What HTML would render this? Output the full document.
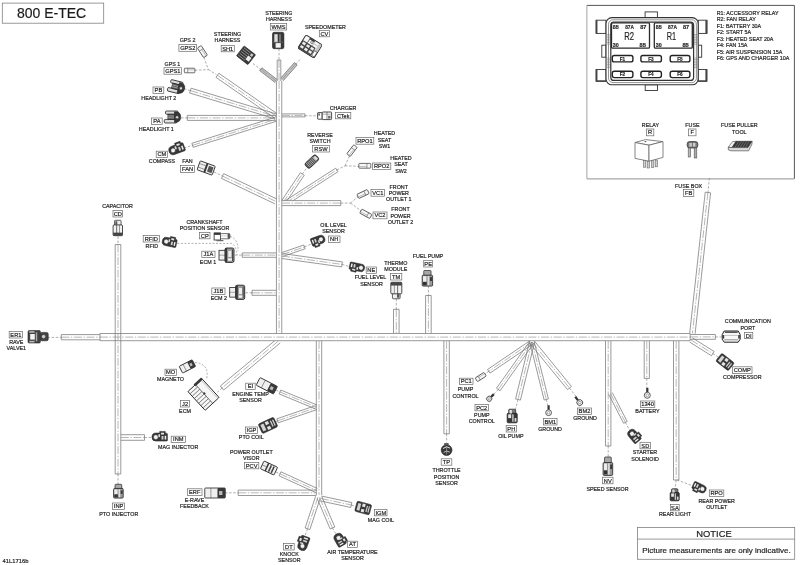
<!DOCTYPE html>
<html><head><meta charset="utf-8"><title>800 E-TEC</title>
<style>
html,body{margin:0;padding:0;background:#fff}
svg{display:block;will-change:transform}
text{font-family:"Liberation Sans",sans-serif;stroke:#222;stroke-width:0.18px}
</style></head><body>
<svg width="800" height="565" viewBox="0 0 800 565">
<rect width="800" height="565" fill="#fff"/>
<rect x="2.3" y="3.1" width="101.4" height="20.1" fill="#fff" stroke="#808080" stroke-width="0.8"/>
<text x="51.6" y="17.79" font-size="14" text-anchor="middle" fill="#1a1a1a">800 E-TEC</text>
<rect x="586.9" y="5.4" width="207.5" height="173.5" fill="#fff"/>
<line x1="586.9" y1="5.4" x2="794.4" y2="5.4" stroke="#555" stroke-width="1.0"/>
<line x1="794.4" y1="5.4" x2="794.4" y2="178.9" stroke="#555" stroke-width="1.0"/>
<line x1="586.9" y1="5.4" x2="586.9" y2="178.9" stroke="#999" stroke-width="0.9"/>
<line x1="586.9" y1="178.9" x2="794.4" y2="178.9" stroke="#a8a8a8" stroke-width="1.3"/>
<rect x="637.4" y="527.4" width="157.3" height="31.9" fill="#fff" stroke="#808080" stroke-width="0.8"/>
<line x1="637.4" y1="539.1" x2="794.7" y2="539.1" stroke="#808080" stroke-width="0.8"/>
<text x="714" y="536.88" font-size="9.4" text-anchor="middle" fill="#1a1a1a">NOTICE</text>
<text x="716.4" y="553.08" font-size="8" text-anchor="middle" fill="#1a1a1a">Picture measurements are only indicative.</text>
<text x="2.6" y="562.69" font-size="5.8" text-anchor="start" fill="#1a1a1a">41L1716b</text>
<line x1="118" y1="236.5" x2="118" y2="244.5" stroke="#777" stroke-width="0.6" stroke-dasharray="2.5 1.6"/>
<line x1="118" y1="474" x2="118" y2="484" stroke="#777" stroke-width="0.6" stroke-dasharray="2.5 1.6"/>
<line x1="120.8" y1="440.3" x2="144.5" y2="440.3" stroke="#6e6e6e" stroke-width="0.7"/>
<line x1="120.8" y1="434.7" x2="144.5" y2="434.7" stroke="#6e6e6e" stroke-width="0.7"/>
<line x1="120.8" y1="437.5" x2="144.5" y2="437.5" stroke="#7a7a7a" stroke-width="0.55" stroke-dasharray="8 1.6 1.4 1.6"/>
<line x1="144.5" y1="440.3" x2="144.5" y2="434.7" stroke="#6e6e6e" stroke-width="0.7"/>
<line x1="144.5" y1="437.5" x2="152.5" y2="437.5" stroke="#777" stroke-width="0.6" stroke-dasharray="2.5 1.6"/>
<line x1="316.3" y1="341" x2="316.3" y2="495" stroke="#6e6e6e" stroke-width="0.7"/>
<line x1="321.7" y1="341" x2="321.7" y2="495" stroke="#6e6e6e" stroke-width="0.7"/>
<line x1="319" y1="341" x2="319" y2="495" stroke="#7a7a7a" stroke-width="0.55" stroke-dasharray="8 1.6 1.4 1.6"/>
<line x1="443.9" y1="341" x2="443.9" y2="433.8" stroke="#6e6e6e" stroke-width="0.7"/>
<line x1="449.3" y1="341" x2="449.3" y2="433.8" stroke="#6e6e6e" stroke-width="0.7"/>
<line x1="446.6" y1="341" x2="446.6" y2="433.8" stroke="#7a7a7a" stroke-width="0.55" stroke-dasharray="8 1.6 1.4 1.6"/>
<line x1="443.9" y1="433.8" x2="449.3" y2="433.8" stroke="#6e6e6e" stroke-width="0.7"/>
<line x1="446.6" y1="433.8" x2="446.6" y2="442.5" stroke="#777" stroke-width="0.6" stroke-dasharray="2.5 1.6"/>
<line x1="605.5" y1="341" x2="605.5" y2="446" stroke="#6e6e6e" stroke-width="0.7"/>
<line x1="610.9" y1="341" x2="610.9" y2="446" stroke="#6e6e6e" stroke-width="0.7"/>
<line x1="608.2" y1="341" x2="608.2" y2="446" stroke="#7a7a7a" stroke-width="0.55" stroke-dasharray="8 1.6 1.4 1.6"/>
<line x1="605.5" y1="446" x2="610.9" y2="446" stroke="#6e6e6e" stroke-width="0.7"/>
<line x1="608.2" y1="446" x2="608.2" y2="457" stroke="#777" stroke-width="0.6" stroke-dasharray="2.5 1.6"/>
<line x1="644.2" y1="341" x2="644.2" y2="378.4" stroke="#6e6e6e" stroke-width="0.7"/>
<line x1="649.4" y1="341" x2="649.4" y2="378.4" stroke="#6e6e6e" stroke-width="0.7"/>
<line x1="646.8" y1="341" x2="646.8" y2="378.4" stroke="#7a7a7a" stroke-width="0.55" stroke-dasharray="8 1.6 1.4 1.6"/>
<line x1="644.2" y1="378.4" x2="649.4" y2="378.4" stroke="#6e6e6e" stroke-width="0.7"/>
<line x1="646.8" y1="378.4" x2="646.8" y2="388" stroke="#777" stroke-width="0.6" stroke-dasharray="2.5 1.6"/>
<line x1="673.5" y1="341" x2="673.5" y2="480" stroke="#6e6e6e" stroke-width="0.7"/>
<line x1="678.9" y1="341" x2="678.9" y2="480" stroke="#6e6e6e" stroke-width="0.7"/>
<line x1="676.2" y1="341" x2="676.2" y2="480" stroke="#7a7a7a" stroke-width="0.55" stroke-dasharray="8 1.6 1.4 1.6"/>
<line x1="673.5" y1="480" x2="678.9" y2="480" stroke="#6e6e6e" stroke-width="0.7"/>
<line x1="676.2" y1="480" x2="675" y2="489" stroke="#777" stroke-width="0.6" stroke-dasharray="2.5 1.6"/>
<line x1="677" y1="480" x2="692" y2="485.5" stroke="#777" stroke-width="0.6" stroke-dasharray="2.5 1.6"/>
<line x1="393.5" y1="309.3" x2="393.5" y2="333.4" stroke="#6e6e6e" stroke-width="0.7"/>
<line x1="399.1" y1="309.3" x2="399.1" y2="333.4" stroke="#6e6e6e" stroke-width="0.7"/>
<line x1="396.3" y1="309.3" x2="396.3" y2="333.4" stroke="#7a7a7a" stroke-width="0.55" stroke-dasharray="8 1.6 1.4 1.6"/>
<line x1="393.5" y1="309.3" x2="399.1" y2="309.3" stroke="#6e6e6e" stroke-width="0.7"/>
<line x1="396.3" y1="298.8" x2="396.3" y2="309.3" stroke="#777" stroke-width="0.6" stroke-dasharray="2.5 1.6"/>
<line x1="425.6" y1="295.5" x2="425.6" y2="333.4" stroke="#6e6e6e" stroke-width="0.7"/>
<line x1="431.2" y1="295.5" x2="431.2" y2="333.4" stroke="#6e6e6e" stroke-width="0.7"/>
<line x1="428.4" y1="295.5" x2="428.4" y2="333.4" stroke="#7a7a7a" stroke-width="0.55" stroke-dasharray="8 1.6 1.4 1.6"/>
<line x1="425.6" y1="295.5" x2="431.2" y2="295.5" stroke="#6e6e6e" stroke-width="0.7"/>
<line x1="428.4" y1="285.8" x2="428.4" y2="295.5" stroke="#777" stroke-width="0.6" stroke-dasharray="2.5 1.6"/>
<line x1="705.22" y1="192.2" x2="689.72" y2="333.2" stroke="#6e6e6e" stroke-width="0.7"/>
<line x1="710.58" y1="192.8" x2="695.08" y2="333.8" stroke="#6e6e6e" stroke-width="0.7"/>
<line x1="707.9" y1="192.5" x2="692.4" y2="333.5" stroke="#7a7a7a" stroke-width="0.55" stroke-dasharray="8 1.6 1.4 1.6"/>
<line x1="705.22" y1="192.2" x2="710.58" y2="192.8" stroke="#6e6e6e" stroke-width="0.7"/>
<line x1="709.3" y1="178" x2="708" y2="192.5" stroke="#777" stroke-width="0.6" stroke-dasharray="2.5 1.6"/>
<line x1="690.2" y1="339.3" x2="715.4" y2="339.3" stroke="#6e6e6e" stroke-width="0.7"/>
<line x1="690.2" y1="334.5" x2="715.4" y2="334.5" stroke="#6e6e6e" stroke-width="0.7"/>
<line x1="690.2" y1="336.9" x2="715.4" y2="336.9" stroke="#7a7a7a" stroke-width="0.55" stroke-dasharray="8 1.6 1.4 1.6"/>
<line x1="715.4" y1="339.3" x2="715.4" y2="334.5" stroke="#6e6e6e" stroke-width="0.7"/>
<line x1="715.4" y1="336.9" x2="721.6" y2="336.9" stroke="#777" stroke-width="0.6" stroke-dasharray="2.5 1.6"/>
<line x1="689.68" y1="342.12" x2="711.48" y2="355.72" stroke="#6e6e6e" stroke-width="0.7"/>
<line x1="692.32" y1="337.88" x2="714.12" y2="351.48" stroke="#6e6e6e" stroke-width="0.7"/>
<line x1="691" y1="340" x2="712.8" y2="353.6" stroke="#7a7a7a" stroke-width="0.55" stroke-dasharray="8 1.6 1.4 1.6"/>
<line x1="711.48" y1="355.72" x2="714.12" y2="351.48" stroke="#6e6e6e" stroke-width="0.7"/>
<line x1="712.8" y1="353.6" x2="718" y2="357" stroke="#777" stroke-width="0.6" stroke-dasharray="2.5 1.6"/>
<line x1="187.3" y1="120.4" x2="276" y2="120.4" stroke="#6e6e6e" stroke-width="0.7"/>
<line x1="187.3" y1="115.4" x2="276" y2="115.4" stroke="#6e6e6e" stroke-width="0.7"/>
<line x1="187.3" y1="117.9" x2="276" y2="117.9" stroke="#7a7a7a" stroke-width="0.55" stroke-dasharray="8 1.6 1.4 1.6"/>
<line x1="187.3" y1="120.4" x2="187.3" y2="115.4" stroke="#6e6e6e" stroke-width="0.7"/>
<line x1="181" y1="117.9" x2="187.3" y2="117.9" stroke="#777" stroke-width="0.6" stroke-dasharray="2.5 1.6"/>
<line x1="189.68" y1="92.99" x2="275.28" y2="118.89" stroke="#6e6e6e" stroke-width="0.7"/>
<line x1="191.12" y1="88.21" x2="276.72" y2="114.11" stroke="#6e6e6e" stroke-width="0.7"/>
<line x1="190.4" y1="90.6" x2="276" y2="116.5" stroke="#7a7a7a" stroke-width="0.55" stroke-dasharray="8 1.6 1.4 1.6"/>
<line x1="189.68" y1="92.99" x2="191.12" y2="88.21" stroke="#6e6e6e" stroke-width="0.7"/>
<line x1="184" y1="88.6" x2="190.4" y2="90.6" stroke="#777" stroke-width="0.6" stroke-dasharray="2.5 1.6"/>
<line x1="215.97" y1="77.35" x2="274.57" y2="118.05" stroke="#6e6e6e" stroke-width="0.7"/>
<line x1="218.83" y1="73.25" x2="277.43" y2="113.95" stroke="#6e6e6e" stroke-width="0.7"/>
<line x1="217.4" y1="75.3" x2="276" y2="116" stroke="#7a7a7a" stroke-width="0.55" stroke-dasharray="8 1.6 1.4 1.6"/>
<line x1="215.97" y1="77.35" x2="218.83" y2="73.25" stroke="#6e6e6e" stroke-width="0.7"/>
<line x1="193.13" y1="147.3" x2="276.63" y2="121.2" stroke="#6e6e6e" stroke-width="0.7"/>
<line x1="191.87" y1="143.3" x2="275.37" y2="117.2" stroke="#6e6e6e" stroke-width="0.7"/>
<line x1="192.5" y1="145.3" x2="276" y2="119.2" stroke="#7a7a7a" stroke-width="0.55" stroke-dasharray="8 1.6 1.4 1.6"/>
<line x1="193.13" y1="147.3" x2="191.87" y2="143.3" stroke="#6e6e6e" stroke-width="0.7"/>
<line x1="184" y1="148" x2="192.5" y2="145.3" stroke="#777" stroke-width="0.6" stroke-dasharray="2.5 1.6"/>
<line x1="221.38" y1="178.35" x2="274.88" y2="203.85" stroke="#6e6e6e" stroke-width="0.7"/>
<line x1="223.62" y1="173.65" x2="277.12" y2="199.15" stroke="#6e6e6e" stroke-width="0.7"/>
<line x1="222.5" y1="176" x2="276" y2="201.5" stroke="#7a7a7a" stroke-width="0.55" stroke-dasharray="8 1.6 1.4 1.6"/>
<line x1="221.38" y1="178.35" x2="223.62" y2="173.65" stroke="#6e6e6e" stroke-width="0.7"/>
<line x1="214" y1="172" x2="222.5" y2="176" stroke="#777" stroke-width="0.6" stroke-dasharray="2.5 1.6"/>
<polygon points="259.7,70.62 275.2,82.62 277.4,79.78 261.9,67.78" fill="#c4c4c4"/>
<line x1="259.7" y1="70.62" x2="275.2" y2="82.62" stroke="#666" stroke-width="0.7"/>
<line x1="261.9" y1="67.78" x2="277.4" y2="79.78" stroke="#666" stroke-width="0.7"/>
<line x1="260.8" y1="69.2" x2="276.3" y2="81.2" stroke="#7a7a7a" stroke-width="0.55" stroke-dasharray="8 1.6 1.4 1.6"/>
<line x1="259.7" y1="70.62" x2="261.9" y2="67.78" stroke="#666" stroke-width="0.7"/>
<polygon points="294.45,62.61 280.45,78.41 283.15,80.79 297.15,64.99" fill="#c4c4c4"/>
<line x1="294.45" y1="62.61" x2="280.45" y2="78.41" stroke="#666" stroke-width="0.7"/>
<line x1="297.15" y1="64.99" x2="283.15" y2="80.79" stroke="#666" stroke-width="0.7"/>
<line x1="295.8" y1="63.8" x2="281.8" y2="79.6" stroke="#7a7a7a" stroke-width="0.55" stroke-dasharray="8 1.6 1.4 1.6"/>
<line x1="294.45" y1="62.61" x2="297.15" y2="64.99" stroke="#666" stroke-width="0.7"/>
<line x1="253" y1="63.5" x2="260.8" y2="69.6" stroke="#777" stroke-width="0.6" stroke-dasharray="2.5 1.6"/>
<line x1="300" y1="59.5" x2="296" y2="64" stroke="#777" stroke-width="0.6" stroke-dasharray="2.5 1.6"/>
<line x1="194.9" y1="70.3" x2="208.4" y2="69.6" stroke="#777" stroke-width="0.6" stroke-dasharray="2.5 1.6"/>
<line x1="203.9" y1="57.3" x2="208.4" y2="69.6" stroke="#777" stroke-width="0.6" stroke-dasharray="2.5 1.6"/>
<line x1="208.4" y1="69.6" x2="216.3" y2="74.5" stroke="#777" stroke-width="0.6" stroke-dasharray="2.5 1.6"/>
<line x1="282" y1="116.9" x2="305" y2="116.9" stroke="#6e6e6e" stroke-width="0.7"/>
<line x1="282" y1="113.9" x2="305" y2="113.9" stroke="#6e6e6e" stroke-width="0.7"/>
<line x1="282" y1="115.4" x2="305" y2="115.4" stroke="#7a7a7a" stroke-width="0.55" stroke-dasharray="8 1.6 1.4 1.6"/>
<line x1="305" y1="116.9" x2="305" y2="113.9" stroke="#6e6e6e" stroke-width="0.7"/>
<line x1="305" y1="115.8" x2="318" y2="115.8" stroke="#777" stroke-width="0.6" stroke-dasharray="2.5 1.6"/>
<line x1="284.71" y1="204.28" x2="304.21" y2="175.28" stroke="#6e6e6e" stroke-width="0.7"/>
<line x1="280.89" y1="201.72" x2="300.39" y2="172.72" stroke="#6e6e6e" stroke-width="0.7"/>
<line x1="282.8" y1="203" x2="302.3" y2="174" stroke="#7a7a7a" stroke-width="0.55" stroke-dasharray="8 1.6 1.4 1.6"/>
<line x1="304.21" y1="175.28" x2="300.39" y2="172.72" stroke="#6e6e6e" stroke-width="0.7"/>
<line x1="286.64" y1="204.77" x2="337.94" y2="171.77" stroke="#6e6e6e" stroke-width="0.7"/>
<line x1="284.36" y1="201.23" x2="335.66" y2="168.23" stroke="#6e6e6e" stroke-width="0.7"/>
<line x1="285.5" y1="203" x2="336.8" y2="170" stroke="#7a7a7a" stroke-width="0.55" stroke-dasharray="8 1.6 1.4 1.6"/>
<line x1="337.94" y1="171.77" x2="335.66" y2="168.23" stroke="#6e6e6e" stroke-width="0.7"/>
<polygon points="282,205.6 340.8,205.6 340.8,200.6 282,200.6" fill="#fff"/>
<line x1="282" y1="205.6" x2="340.8" y2="205.6" stroke="#6e6e6e" stroke-width="0.7"/>
<line x1="282" y1="200.6" x2="340.8" y2="200.6" stroke="#6e6e6e" stroke-width="0.7"/>
<line x1="282" y1="203.1" x2="340.8" y2="203.1" stroke="#7a7a7a" stroke-width="0.55" stroke-dasharray="8 1.6 1.4 1.6"/>
<line x1="340.8" y1="205.6" x2="340.8" y2="200.6" stroke="#6e6e6e" stroke-width="0.7"/>
<line x1="302.3" y1="174" x2="307" y2="167.5" stroke="#777" stroke-width="0.6" stroke-dasharray="2.5 1.6"/>
<line x1="336.8" y1="170" x2="345" y2="165.8" stroke="#777" stroke-width="0.6" stroke-dasharray="2.5 1.6"/>
<line x1="345" y1="165.8" x2="349.5" y2="156" stroke="#777" stroke-width="0.6" stroke-dasharray="2.5 1.6"/>
<line x1="345" y1="165.8" x2="359.5" y2="166.3" stroke="#777" stroke-width="0.6" stroke-dasharray="2.5 1.6"/>
<line x1="340.8" y1="203.1" x2="350.5" y2="203.1" stroke="#777" stroke-width="0.6" stroke-dasharray="2.5 1.6"/>
<line x1="350.5" y1="203.1" x2="358" y2="196.8" stroke="#777" stroke-width="0.6" stroke-dasharray="2.5 1.6"/>
<line x1="350.5" y1="203.1" x2="361" y2="210.8" stroke="#777" stroke-width="0.6" stroke-dasharray="2.5 1.6"/>
<line x1="282.65" y1="256.49" x2="305.15" y2="248.79" stroke="#6e6e6e" stroke-width="0.7"/>
<line x1="281.35" y1="252.71" x2="303.85" y2="245.01" stroke="#6e6e6e" stroke-width="0.7"/>
<line x1="282" y1="254.6" x2="304.5" y2="246.9" stroke="#7a7a7a" stroke-width="0.55" stroke-dasharray="8 1.6 1.4 1.6"/>
<line x1="305.15" y1="248.79" x2="303.85" y2="245.01" stroke="#6e6e6e" stroke-width="0.7"/>
<line x1="304.5" y1="246.9" x2="311.5" y2="244" stroke="#777" stroke-width="0.6" stroke-dasharray="2.5 1.6"/>
<line x1="281.65" y1="258.48" x2="341.65" y2="266.88" stroke="#6e6e6e" stroke-width="0.7"/>
<line x1="282.35" y1="253.52" x2="342.35" y2="261.92" stroke="#6e6e6e" stroke-width="0.7"/>
<line x1="282" y1="256" x2="342" y2="264.4" stroke="#7a7a7a" stroke-width="0.55" stroke-dasharray="8 1.6 1.4 1.6"/>
<line x1="341.65" y1="266.88" x2="342.35" y2="261.92" stroke="#6e6e6e" stroke-width="0.7"/>
<line x1="342" y1="264.4" x2="349.5" y2="266.5" stroke="#777" stroke-width="0.6" stroke-dasharray="2.5 1.6"/>
<line x1="242.2" y1="257.3" x2="276" y2="257.3" stroke="#6e6e6e" stroke-width="0.7"/>
<line x1="242.2" y1="252.9" x2="276" y2="252.9" stroke="#6e6e6e" stroke-width="0.7"/>
<line x1="242.2" y1="255.1" x2="276" y2="255.1" stroke="#7a7a7a" stroke-width="0.55" stroke-dasharray="8 1.6 1.4 1.6"/>
<line x1="242.2" y1="257.3" x2="242.2" y2="252.9" stroke="#6e6e6e" stroke-width="0.7"/>
<line x1="235" y1="255.1" x2="242.2" y2="255.1" stroke="#777" stroke-width="0.6" stroke-dasharray="2.5 1.6"/>
<line x1="252" y1="295.3" x2="276" y2="295.3" stroke="#6e6e6e" stroke-width="0.7"/>
<line x1="252" y1="290.3" x2="276" y2="290.3" stroke="#6e6e6e" stroke-width="0.7"/>
<line x1="252" y1="292.8" x2="276" y2="292.8" stroke="#7a7a7a" stroke-width="0.55" stroke-dasharray="8 1.6 1.4 1.6"/>
<line x1="252" y1="295.3" x2="252" y2="290.3" stroke="#6e6e6e" stroke-width="0.7"/>
<line x1="245.5" y1="292.8" x2="252" y2="292.8" stroke="#777" stroke-width="0.6" stroke-dasharray="2.5 1.6"/>
<path d="M177.5 243.4 H231.5 Q236 245 237 255 M230 236.3 Q238.5 239 238 251" fill="none" stroke="#808080" stroke-width="0.6" stroke-dasharray="2 1.5"/>
<line x1="276.84" y1="339" x2="220.34" y2="386" stroke="#6e6e6e" stroke-width="0.7"/>
<line x1="280.16" y1="343" x2="223.66" y2="390" stroke="#6e6e6e" stroke-width="0.7"/>
<line x1="278.5" y1="341" x2="222" y2="388" stroke="#7a7a7a" stroke-width="0.55" stroke-dasharray="8 1.6 1.4 1.6"/>
<line x1="220.34" y1="386" x2="223.66" y2="390" stroke="#6e6e6e" stroke-width="0.7"/>
<line x1="222" y1="388" x2="217" y2="392.5" stroke="#777" stroke-width="0.6" stroke-dasharray="2.5 1.6"/>
<path d="M195 362.5 Q210 364 206.5 379.5" fill="none" stroke="#777" stroke-width="0.6" stroke-dasharray="2 1.5"/>
<line x1="279.2" y1="393.94" x2="315.5" y2="408.94" stroke="#6e6e6e" stroke-width="0.7"/>
<line x1="280.8" y1="390.06" x2="317.1" y2="405.06" stroke="#6e6e6e" stroke-width="0.7"/>
<line x1="280" y1="392" x2="316.3" y2="407" stroke="#7a7a7a" stroke-width="0.55" stroke-dasharray="8 1.6 1.4 1.6"/>
<line x1="279.2" y1="393.94" x2="280.8" y2="390.06" stroke="#6e6e6e" stroke-width="0.7"/>
<line x1="278.18" y1="422.79" x2="316.98" y2="409.59" stroke="#6e6e6e" stroke-width="0.7"/>
<line x1="276.82" y1="418.81" x2="315.62" y2="405.61" stroke="#6e6e6e" stroke-width="0.7"/>
<line x1="277.5" y1="420.8" x2="316.3" y2="407.6" stroke="#7a7a7a" stroke-width="0.55" stroke-dasharray="8 1.6 1.4 1.6"/>
<line x1="278.18" y1="422.79" x2="276.82" y2="418.81" stroke="#6e6e6e" stroke-width="0.7"/>
<line x1="276" y1="390" x2="280" y2="392" stroke="#777" stroke-width="0.6" stroke-dasharray="2.5 1.6"/>
<line x1="276" y1="421.5" x2="277.5" y2="420.8" stroke="#777" stroke-width="0.6" stroke-dasharray="2.5 1.6"/>
<line x1="279.08" y1="475.8" x2="315.58" y2="492.5" stroke="#6e6e6e" stroke-width="0.7"/>
<line x1="280.92" y1="471.8" x2="317.42" y2="488.5" stroke="#6e6e6e" stroke-width="0.7"/>
<line x1="280" y1="473.8" x2="316.5" y2="490.5" stroke="#7a7a7a" stroke-width="0.55" stroke-dasharray="8 1.6 1.4 1.6"/>
<line x1="279.08" y1="475.8" x2="280.92" y2="471.8" stroke="#6e6e6e" stroke-width="0.7"/>
<line x1="276" y1="472" x2="280" y2="473.8" stroke="#777" stroke-width="0.6" stroke-dasharray="2.5 1.6"/>
<line x1="238.2" y1="495.5" x2="316.5" y2="495.5" stroke="#6e6e6e" stroke-width="0.7"/>
<line x1="238.2" y1="490.1" x2="316.5" y2="490.1" stroke="#6e6e6e" stroke-width="0.7"/>
<line x1="238.2" y1="492.8" x2="316.5" y2="492.8" stroke="#7a7a7a" stroke-width="0.55" stroke-dasharray="8 1.6 1.4 1.6"/>
<line x1="238.2" y1="495.5" x2="238.2" y2="490.1" stroke="#6e6e6e" stroke-width="0.7"/>
<line x1="225" y1="492.8" x2="238.2" y2="492.8" stroke="#777" stroke-width="0.6" stroke-dasharray="2.5 1.6"/>
<line x1="320.48" y1="500.94" x2="350.78" y2="507.44" stroke="#6e6e6e" stroke-width="0.7"/>
<line x1="321.52" y1="496.06" x2="351.82" y2="502.56" stroke="#6e6e6e" stroke-width="0.7"/>
<line x1="321" y1="498.5" x2="351.3" y2="505" stroke="#7a7a7a" stroke-width="0.55" stroke-dasharray="8 1.6 1.4 1.6"/>
<line x1="350.78" y1="507.44" x2="351.82" y2="502.56" stroke="#6e6e6e" stroke-width="0.7"/>
<line x1="351.3" y1="505" x2="355.5" y2="506" stroke="#777" stroke-width="0.6" stroke-dasharray="2.5 1.6"/>
<line x1="315.63" y1="496.22" x2="305.13" y2="528.02" stroke="#6e6e6e" stroke-width="0.7"/>
<line x1="320.37" y1="497.78" x2="309.87" y2="529.58" stroke="#6e6e6e" stroke-width="0.7"/>
<line x1="318" y1="497" x2="307.5" y2="528.8" stroke="#7a7a7a" stroke-width="0.55" stroke-dasharray="8 1.6 1.4 1.6"/>
<line x1="305.13" y1="528.02" x2="309.87" y2="529.58" stroke="#6e6e6e" stroke-width="0.7"/>
<line x1="307.5" y1="528.8" x2="305" y2="535.5" stroke="#777" stroke-width="0.6" stroke-dasharray="2.5 1.6"/>
<line x1="317.2" y1="498.48" x2="330.2" y2="528.98" stroke="#6e6e6e" stroke-width="0.7"/>
<line x1="321.8" y1="496.52" x2="334.8" y2="527.02" stroke="#6e6e6e" stroke-width="0.7"/>
<line x1="319.5" y1="497.5" x2="332.5" y2="528" stroke="#7a7a7a" stroke-width="0.55" stroke-dasharray="8 1.6 1.4 1.6"/>
<line x1="330.2" y1="528.98" x2="334.8" y2="527.02" stroke="#6e6e6e" stroke-width="0.7"/>
<line x1="332.5" y1="528" x2="336" y2="534" stroke="#777" stroke-width="0.6" stroke-dasharray="2.5 1.6"/>
<line x1="530.77" y1="340.18" x2="487.57" y2="369.48" stroke="#6e6e6e" stroke-width="0.7"/>
<line x1="533.23" y1="343.82" x2="490.03" y2="373.12" stroke="#6e6e6e" stroke-width="0.7"/>
<line x1="532" y1="342" x2="488.8" y2="371.3" stroke="#7a7a7a" stroke-width="0.55" stroke-dasharray="8 1.6 1.4 1.6"/>
<line x1="487.57" y1="369.48" x2="490.03" y2="373.12" stroke="#6e6e6e" stroke-width="0.7"/>
<line x1="488.8" y1="371.3" x2="485" y2="374" stroke="#777" stroke-width="0.6" stroke-dasharray="2.5 1.6"/>
<line x1="530.21" y1="340.73" x2="496.51" y2="388.23" stroke="#6e6e6e" stroke-width="0.7"/>
<line x1="533.79" y1="343.27" x2="500.09" y2="390.77" stroke="#6e6e6e" stroke-width="0.7"/>
<line x1="532" y1="342" x2="498.3" y2="389.5" stroke="#7a7a7a" stroke-width="0.55" stroke-dasharray="8 1.6 1.4 1.6"/>
<line x1="496.51" y1="388.23" x2="500.09" y2="390.77" stroke="#6e6e6e" stroke-width="0.7"/>
<line x1="498.3" y1="389.5" x2="493.5" y2="394.5" stroke="#777" stroke-width="0.6" stroke-dasharray="2.5 1.6"/>
<line x1="529.57" y1="341.41" x2="515.57" y2="398.91" stroke="#6e6e6e" stroke-width="0.7"/>
<line x1="534.43" y1="342.59" x2="520.43" y2="400.09" stroke="#6e6e6e" stroke-width="0.7"/>
<line x1="532" y1="342" x2="518" y2="399.5" stroke="#7a7a7a" stroke-width="0.55" stroke-dasharray="8 1.6 1.4 1.6"/>
<line x1="515.57" y1="398.91" x2="520.43" y2="400.09" stroke="#6e6e6e" stroke-width="0.7"/>
<line x1="518" y1="399.5" x2="515.5" y2="409" stroke="#777" stroke-width="0.6" stroke-dasharray="2.5 1.6"/>
<line x1="529.87" y1="342.53" x2="544.17" y2="400.03" stroke="#6e6e6e" stroke-width="0.7"/>
<line x1="534.13" y1="341.47" x2="548.43" y2="398.97" stroke="#6e6e6e" stroke-width="0.7"/>
<line x1="532" y1="342" x2="546.3" y2="399.5" stroke="#7a7a7a" stroke-width="0.55" stroke-dasharray="8 1.6 1.4 1.6"/>
<line x1="544.17" y1="400.03" x2="548.43" y2="398.97" stroke="#6e6e6e" stroke-width="0.7"/>
<line x1="546.3" y1="399.5" x2="548" y2="406.5" stroke="#777" stroke-width="0.6" stroke-dasharray="2.5 1.6"/>
<line x1="530.06" y1="343.58" x2="567.56" y2="389.58" stroke="#6e6e6e" stroke-width="0.7"/>
<line x1="533.94" y1="340.42" x2="571.44" y2="386.42" stroke="#6e6e6e" stroke-width="0.7"/>
<line x1="532" y1="342" x2="569.5" y2="388" stroke="#7a7a7a" stroke-width="0.55" stroke-dasharray="8 1.6 1.4 1.6"/>
<line x1="567.56" y1="389.58" x2="571.44" y2="386.42" stroke="#6e6e6e" stroke-width="0.7"/>
<line x1="569.5" y1="388" x2="576.5" y2="397" stroke="#777" stroke-width="0.6" stroke-dasharray="2.5 1.6"/>
<line x1="608.72" y1="394.42" x2="623.62" y2="423.32" stroke="#6e6e6e" stroke-width="0.7"/>
<line x1="612.28" y1="392.58" x2="627.18" y2="421.48" stroke="#6e6e6e" stroke-width="0.7"/>
<line x1="610.5" y1="393.5" x2="625.4" y2="422.4" stroke="#7a7a7a" stroke-width="0.55" stroke-dasharray="8 1.6 1.4 1.6"/>
<line x1="623.62" y1="423.32" x2="627.18" y2="421.48" stroke="#6e6e6e" stroke-width="0.7"/>
<line x1="625.4" y1="422.4" x2="629.5" y2="430" stroke="#777" stroke-width="0.6" stroke-dasharray="2.5 1.6"/>
<polygon points="276.45,81 276.45,333.5 281.75,333.5 281.75,81" fill="#fff"/>
<line x1="276.45" y1="81" x2="276.45" y2="333.5" stroke="#6e6e6e" stroke-width="0.7"/>
<line x1="281.75" y1="81" x2="281.75" y2="333.5" stroke="#6e6e6e" stroke-width="0.7"/>
<line x1="279.1" y1="81" x2="279.1" y2="333.5" stroke="#7a7a7a" stroke-width="0.55" stroke-dasharray="8 1.6 1.4 1.6"/>
<polygon points="277.2,60 277.2,81 280.8,81 280.8,60" fill="#fff"/>
<line x1="277.2" y1="60" x2="277.2" y2="81" stroke="#6e6e6e" stroke-width="0.7"/>
<line x1="280.8" y1="60" x2="280.8" y2="81" stroke="#6e6e6e" stroke-width="0.7"/>
<line x1="279" y1="60" x2="279" y2="81" stroke="#7a7a7a" stroke-width="0.55" stroke-dasharray="8 1.6 1.4 1.6"/>
<line x1="277.2" y1="60" x2="280.8" y2="60" stroke="#6e6e6e" stroke-width="0.7"/>
<line x1="279" y1="48.7" x2="279" y2="60" stroke="#777" stroke-width="0.6" stroke-dasharray="2.5 1.6"/>
<polygon points="100,340.7 690.2,340.7 690.2,333.5 100,333.5" fill="#fff"/>
<line x1="100" y1="340.7" x2="690.2" y2="340.7" stroke="#6e6e6e" stroke-width="0.7"/>
<line x1="100" y1="333.5" x2="690.2" y2="333.5" stroke="#6e6e6e" stroke-width="0.7"/>
<line x1="100" y1="337.1" x2="690.2" y2="337.1" stroke="#7a7a7a" stroke-width="0.55" stroke-dasharray="8 1.6 1.4 1.6"/>
<line x1="690.2" y1="340.7" x2="690.2" y2="333.5" stroke="#6e6e6e" stroke-width="0.7"/>
<line x1="100" y1="333.5" x2="100" y2="340.7" stroke="#6e6e6e" stroke-width="0.7"/>
<line x1="61.3" y1="339.8" x2="100" y2="339.8" stroke="#6e6e6e" stroke-width="0.7"/>
<line x1="61.3" y1="334.6" x2="100" y2="334.6" stroke="#6e6e6e" stroke-width="0.7"/>
<line x1="61.3" y1="337.2" x2="100" y2="337.2" stroke="#7a7a7a" stroke-width="0.55" stroke-dasharray="8 1.6 1.4 1.6"/>
<line x1="61.3" y1="339.8" x2="61.3" y2="334.6" stroke="#6e6e6e" stroke-width="0.7"/>
<line x1="47.5" y1="337.4" x2="61.3" y2="337.4" stroke="#777" stroke-width="0.6" stroke-dasharray="2.5 1.6"/>
<line x1="115.2" y1="244.5" x2="115.2" y2="474" stroke="#6e6e6e" stroke-width="0.7"/>
<line x1="120.8" y1="244.5" x2="120.8" y2="474" stroke="#6e6e6e" stroke-width="0.7"/>
<line x1="118" y1="244.5" x2="118" y2="474" stroke="#7a7a7a" stroke-width="0.55" stroke-dasharray="8 1.6 1.4 1.6"/>
<line x1="115.2" y1="244.5" x2="120.8" y2="244.5" stroke="#6e6e6e" stroke-width="0.7"/>
<line x1="115.2" y1="474" x2="120.8" y2="474" stroke="#6e6e6e" stroke-width="0.7"/>
<text x="278.8" y="14.63" font-size="5.35" text-anchor="middle" fill="#1a1a1a">STEERING</text>
<text x="278.8" y="20.93" font-size="5.35" text-anchor="middle" fill="#1a1a1a">HARNESS</text>
<rect x="270.3" y="23.6" width="16.4" height="6.4" fill="#fff" stroke="#6a6a6a" stroke-width="0.7"/>
<text x="278.5" y="28.85" font-size="5.7" text-anchor="middle" fill="#1a1a1a">WMS</text>
<text x="227.5" y="35.93" font-size="5.35" text-anchor="middle" fill="#1a1a1a">STEERING</text>
<text x="227.5" y="42.13" font-size="5.35" text-anchor="middle" fill="#1a1a1a">HARNESS</text>
<rect x="221.2" y="45.4" width="13.1" height="6.4" fill="#fff" stroke="#6a6a6a" stroke-width="0.7"/>
<text x="227.75" y="50.65" font-size="5.7" text-anchor="middle" fill="#1a1a1a">SH1</text>
<text x="325.4" y="28.83" font-size="5.35" text-anchor="middle" fill="#1a1a1a">SPEEDOMETER</text>
<rect x="319.3" y="30.5" width="10.1" height="6.3" fill="#fff" stroke="#6a6a6a" stroke-width="0.7"/>
<text x="324.35" y="35.7" font-size="5.7" text-anchor="middle" fill="#1a1a1a">CV</text>
<text x="187.5" y="42.33" font-size="5.35" text-anchor="middle" fill="#1a1a1a">GPS 2</text>
<rect x="178.9" y="44.6" width="17.7" height="6.7" fill="#fff" stroke="#6a6a6a" stroke-width="0.7"/>
<text x="187.75" y="50" font-size="5.7" text-anchor="middle" fill="#1a1a1a">GPS2</text>
<text x="172.4" y="65.53" font-size="5.35" text-anchor="middle" fill="#1a1a1a">GPS 1</text>
<rect x="164" y="67.7" width="17.6" height="6.5" fill="#fff" stroke="#6a6a6a" stroke-width="0.7"/>
<text x="172.8" y="73" font-size="5.7" text-anchor="middle" fill="#1a1a1a">GPS1</text>
<rect x="153" y="87" width="10.8" height="6.6" fill="#fff" stroke="#6a6a6a" stroke-width="0.7"/>
<text x="158.4" y="92.35" font-size="5.7" text-anchor="middle" fill="#1a1a1a">PB</text>
<text x="158.8" y="99.93" font-size="5.35" text-anchor="middle" fill="#1a1a1a">HEADLIGHT 2</text>
<rect x="151.6" y="118" width="10.6" height="6.5" fill="#fff" stroke="#6a6a6a" stroke-width="0.7"/>
<text x="156.9" y="123.3" font-size="5.7" text-anchor="middle" fill="#1a1a1a">PA</text>
<text x="156.3" y="130.73" font-size="5.35" text-anchor="middle" fill="#1a1a1a">HEADLIGHT 1</text>
<rect x="156.2" y="151.2" width="11.4" height="6.4" fill="#fff" stroke="#6a6a6a" stroke-width="0.7"/>
<text x="161.9" y="156.45" font-size="5.7" text-anchor="middle" fill="#1a1a1a">CM</text>
<text x="162" y="162.73" font-size="5.35" text-anchor="middle" fill="#1a1a1a">COMPASS</text>
<text x="187.5" y="162.73" font-size="5.35" text-anchor="middle" fill="#1a1a1a">FAN</text>
<rect x="180.6" y="165.6" width="14" height="6.8" fill="#fff" stroke="#6a6a6a" stroke-width="0.7"/>
<text x="187.6" y="171.05" font-size="5.7" text-anchor="middle" fill="#1a1a1a">FAN</text>
<text x="343" y="109.93" font-size="5.35" text-anchor="middle" fill="#1a1a1a">CHARGER</text>
<rect x="335.5" y="112.4" width="15.3" height="6.4" fill="#fff" stroke="#6a6a6a" stroke-width="0.7"/>
<text x="343.15" y="117.58" font-size="5.5" text-anchor="middle" fill="#1a1a1a">CTek</text>
<text x="320" y="136.93" font-size="5.35" text-anchor="middle" fill="#1a1a1a">REVERSE</text>
<text x="320" y="143.43" font-size="5.35" text-anchor="middle" fill="#1a1a1a">SWITCH</text>
<rect x="312.5" y="145.6" width="16.9" height="6.4" fill="#fff" stroke="#6a6a6a" stroke-width="0.7"/>
<text x="320.95" y="150.85" font-size="5.7" text-anchor="middle" fill="#1a1a1a">RSW</text>
<rect x="356" y="137.4" width="17.8" height="6.8" fill="#fff" stroke="#6a6a6a" stroke-width="0.7"/>
<text x="364.9" y="142.85" font-size="5.7" text-anchor="middle" fill="#1a1a1a">RPO1</text>
<text x="384.5" y="135.23" font-size="5.35" text-anchor="middle" fill="#1a1a1a">HEATED</text>
<text x="384.5" y="141.73" font-size="5.35" text-anchor="middle" fill="#1a1a1a">SEAT</text>
<text x="384.5" y="148.43" font-size="5.35" text-anchor="middle" fill="#1a1a1a">SW1</text>
<rect x="372.5" y="163" width="18.3" height="6.6" fill="#fff" stroke="#6a6a6a" stroke-width="0.7"/>
<text x="381.65" y="168.35" font-size="5.7" text-anchor="middle" fill="#1a1a1a">RPO2</text>
<text x="401" y="159.93" font-size="5.35" text-anchor="middle" fill="#1a1a1a">HEATED</text>
<text x="401" y="166.43" font-size="5.35" text-anchor="middle" fill="#1a1a1a">SEAT</text>
<text x="401" y="173.23" font-size="5.35" text-anchor="middle" fill="#1a1a1a">SW2</text>
<rect x="371" y="189.4" width="13.6" height="6.8" fill="#fff" stroke="#6a6a6a" stroke-width="0.7"/>
<text x="377.8" y="194.85" font-size="5.7" text-anchor="middle" fill="#1a1a1a">VC1</text>
<text x="398.8" y="188.73" font-size="5.35" text-anchor="middle" fill="#1a1a1a">FRONT</text>
<text x="398.8" y="194.93" font-size="5.35" text-anchor="middle" fill="#1a1a1a">POWER</text>
<text x="398.8" y="201.43" font-size="5.35" text-anchor="middle" fill="#1a1a1a">OUTLET 1</text>
<rect x="373" y="212" width="14" height="6.8" fill="#fff" stroke="#6a6a6a" stroke-width="0.7"/>
<text x="380" y="217.45" font-size="5.7" text-anchor="middle" fill="#1a1a1a">VC2</text>
<text x="400.5" y="211.43" font-size="5.35" text-anchor="middle" fill="#1a1a1a">FRONT</text>
<text x="400.5" y="217.73" font-size="5.35" text-anchor="middle" fill="#1a1a1a">POWER</text>
<text x="400.5" y="224.43" font-size="5.35" text-anchor="middle" fill="#1a1a1a">OUTLET 2</text>
<text x="333.5" y="226.93" font-size="5.35" text-anchor="middle" fill="#1a1a1a">OIL LEVEL</text>
<text x="333.5" y="233.43" font-size="5.35" text-anchor="middle" fill="#1a1a1a">SENSOR</text>
<rect x="328.4" y="236" width="11.6" height="6.5" fill="#fff" stroke="#6a6a6a" stroke-width="0.7"/>
<text x="334.2" y="241.3" font-size="5.7" text-anchor="middle" fill="#1a1a1a">NH</text>
<rect x="366.2" y="267" width="10.2" height="6.3" fill="#fff" stroke="#6a6a6a" stroke-width="0.7"/>
<text x="371.3" y="272.2" font-size="5.7" text-anchor="middle" fill="#1a1a1a">NE</text>
<text x="370.5" y="279.43" font-size="5.35" text-anchor="middle" fill="#1a1a1a">FUEL LEVEL</text>
<text x="371.5" y="285.73" font-size="5.35" text-anchor="middle" fill="#1a1a1a">SENSOR</text>
<text x="395.8" y="264.93" font-size="5.35" text-anchor="middle" fill="#1a1a1a">THERMO</text>
<text x="395.8" y="271.43" font-size="5.35" text-anchor="middle" fill="#1a1a1a">MODULE</text>
<rect x="390.6" y="273.6" width="11.2" height="6.4" fill="#fff" stroke="#6a6a6a" stroke-width="0.7"/>
<text x="396.2" y="278.85" font-size="5.7" text-anchor="middle" fill="#1a1a1a">TM</text>
<text x="428" y="258.23" font-size="5.35" text-anchor="middle" fill="#1a1a1a">FUEL PUMP</text>
<rect x="423.7" y="260.6" width="8.9" height="6.4" fill="#fff" stroke="#6a6a6a" stroke-width="0.7"/>
<text x="428.15" y="265.85" font-size="5.7" text-anchor="middle" fill="#1a1a1a">PE</text>
<text x="117.5" y="208.23" font-size="5.35" text-anchor="middle" fill="#1a1a1a">CAPACITOR</text>
<rect x="113" y="210.4" width="9.6" height="6.6" fill="#fff" stroke="#6a6a6a" stroke-width="0.7"/>
<text x="117.8" y="215.75" font-size="5.7" text-anchor="middle" fill="#1a1a1a">CD</text>
<rect x="143.2" y="235.6" width="16.2" height="6.4" fill="#fff" stroke="#6a6a6a" stroke-width="0.7"/>
<text x="151.3" y="240.85" font-size="5.7" text-anchor="middle" fill="#1a1a1a">RFID</text>
<text x="151.8" y="248.23" font-size="5.35" text-anchor="middle" fill="#1a1a1a">RFID</text>
<text x="204.5" y="223.93" font-size="5.35" text-anchor="middle" fill="#1a1a1a">CRANKSHAFT</text>
<text x="204.5" y="230.23" font-size="5.35" text-anchor="middle" fill="#1a1a1a">POSITION SENSOR</text>
<rect x="199.5" y="232.4" width="10.5" height="6.4" fill="#fff" stroke="#6a6a6a" stroke-width="0.7"/>
<text x="204.75" y="237.65" font-size="5.7" text-anchor="middle" fill="#1a1a1a">CP</text>
<rect x="201.8" y="251.2" width="13.2" height="6.4" fill="#fff" stroke="#6a6a6a" stroke-width="0.7"/>
<text x="208.4" y="256.45" font-size="5.7" text-anchor="middle" fill="#1a1a1a">J1A</text>
<text x="208" y="263.73" font-size="5.35" text-anchor="middle" fill="#1a1a1a">ECM 1</text>
<rect x="211.8" y="288" width="13.2" height="6.5" fill="#fff" stroke="#6a6a6a" stroke-width="0.7"/>
<text x="218.4" y="293.3" font-size="5.7" text-anchor="middle" fill="#1a1a1a">J1B</text>
<text x="218.8" y="300.23" font-size="5.35" text-anchor="middle" fill="#1a1a1a">ECM 2</text>
<rect x="9.2" y="331.6" width="13.4" height="6.4" fill="#fff" stroke="#6a6a6a" stroke-width="0.7"/>
<text x="15.9" y="336.85" font-size="5.7" text-anchor="middle" fill="#1a1a1a">ER1</text>
<text x="16.3" y="343.93" font-size="5.35" text-anchor="middle" fill="#1a1a1a">RAVE</text>
<text x="16.3" y="350.23" font-size="5.35" text-anchor="middle" fill="#1a1a1a">VALVE1</text>
<rect x="165" y="369.2" width="11.4" height="6.4" fill="#fff" stroke="#6a6a6a" stroke-width="0.7"/>
<text x="170.7" y="374.45" font-size="5.7" text-anchor="middle" fill="#1a1a1a">MO</text>
<text x="170.5" y="381.43" font-size="5.35" text-anchor="middle" fill="#1a1a1a">MAGNETO</text>
<rect x="180.5" y="400.6" width="9.1" height="6.4" fill="#fff" stroke="#6a6a6a" stroke-width="0.7"/>
<text x="185.05" y="405.85" font-size="5.7" text-anchor="middle" fill="#1a1a1a">J2</text>
<text x="185" y="413.23" font-size="5.35" text-anchor="middle" fill="#1a1a1a">ECM</text>
<rect x="245.7" y="383.2" width="9.5" height="6.4" fill="#fff" stroke="#6a6a6a" stroke-width="0.7"/>
<text x="250.45" y="388.45" font-size="5.7" text-anchor="middle" fill="#1a1a1a">EI</text>
<text x="250.5" y="396.23" font-size="5.35" text-anchor="middle" fill="#1a1a1a">ENGINE TEMP</text>
<text x="250.5" y="402.43" font-size="5.35" text-anchor="middle" fill="#1a1a1a">SENSOR</text>
<rect x="245.6" y="427" width="11.8" height="6.4" fill="#fff" stroke="#6a6a6a" stroke-width="0.7"/>
<text x="251.5" y="432.25" font-size="5.7" text-anchor="middle" fill="#1a1a1a">IGP</text>
<text x="251.3" y="439.43" font-size="5.35" text-anchor="middle" fill="#1a1a1a">PTO COIL</text>
<rect x="171.2" y="436.2" width="14.2" height="6.4" fill="#fff" stroke="#6a6a6a" stroke-width="0.7"/>
<text x="178.3" y="441.45" font-size="5.7" text-anchor="middle" fill="#1a1a1a">INM</text>
<text x="178.2" y="448.73" font-size="5.35" text-anchor="middle" fill="#1a1a1a">MAG INJECTOR</text>
<text x="251.3" y="453.93" font-size="5.35" text-anchor="middle" fill="#1a1a1a">POWER OUTLET</text>
<text x="251.3" y="460.23" font-size="5.35" text-anchor="middle" fill="#1a1a1a">VISOR</text>
<rect x="244.5" y="462.4" width="14.3" height="6.4" fill="#fff" stroke="#6a6a6a" stroke-width="0.7"/>
<text x="251.65" y="467.65" font-size="5.7" text-anchor="middle" fill="#1a1a1a">PCV</text>
<rect x="187.5" y="488.8" width="14.5" height="6.6" fill="#fff" stroke="#6a6a6a" stroke-width="0.7"/>
<text x="194.75" y="494.15" font-size="5.7" text-anchor="middle" fill="#1a1a1a">ERF</text>
<text x="194.5" y="501.93" font-size="5.35" text-anchor="middle" fill="#1a1a1a">E-RAVE</text>
<text x="194.5" y="508.23" font-size="5.35" text-anchor="middle" fill="#1a1a1a">FEEDBACK</text>
<rect x="112.5" y="503" width="12.1" height="6.4" fill="#fff" stroke="#6a6a6a" stroke-width="0.7"/>
<text x="118.55" y="508.25" font-size="5.7" text-anchor="middle" fill="#1a1a1a">INP</text>
<text x="118.8" y="515.73" font-size="5.35" text-anchor="middle" fill="#1a1a1a">PTO INJECTOR</text>
<rect x="374.5" y="509.4" width="12.5" height="6.4" fill="#fff" stroke="#6a6a6a" stroke-width="0.7"/>
<text x="380.75" y="514.65" font-size="5.7" text-anchor="middle" fill="#1a1a1a">IGM</text>
<text x="380.8" y="522.43" font-size="5.35" text-anchor="middle" fill="#1a1a1a">MAG COIL</text>
<rect x="283.6" y="543.5" width="10.6" height="6.5" fill="#fff" stroke="#6a6a6a" stroke-width="0.7"/>
<text x="288.9" y="548.8" font-size="5.7" text-anchor="middle" fill="#1a1a1a">DT</text>
<text x="289.3" y="555.73" font-size="5.35" text-anchor="middle" fill="#1a1a1a">KNOCK</text>
<text x="289.3" y="561.93" font-size="5.35" text-anchor="middle" fill="#1a1a1a">SENSOR</text>
<rect x="347.5" y="541.2" width="10.1" height="6.4" fill="#fff" stroke="#6a6a6a" stroke-width="0.7"/>
<text x="352.55" y="546.45" font-size="5.7" text-anchor="middle" fill="#1a1a1a">AT</text>
<text x="352.5" y="553.73" font-size="5.35" text-anchor="middle" fill="#1a1a1a">AIR TEMPERATURE</text>
<text x="352.5" y="559.93" font-size="5.35" text-anchor="middle" fill="#1a1a1a">SENSOR</text>
<rect x="459.4" y="378.2" width="13.6" height="6.4" fill="#fff" stroke="#6a6a6a" stroke-width="0.7"/>
<text x="466.2" y="383.45" font-size="5.7" text-anchor="middle" fill="#1a1a1a">PC1</text>
<text x="465.5" y="391.23" font-size="5.35" text-anchor="middle" fill="#1a1a1a">PUMP</text>
<text x="465.5" y="397.73" font-size="5.35" text-anchor="middle" fill="#1a1a1a">CONTROL</text>
<rect x="475" y="404.4" width="13.4" height="6.4" fill="#fff" stroke="#6a6a6a" stroke-width="0.7"/>
<text x="481.7" y="409.65" font-size="5.7" text-anchor="middle" fill="#1a1a1a">PC2</text>
<text x="481.8" y="416.93" font-size="5.35" text-anchor="middle" fill="#1a1a1a">PUMP</text>
<text x="481.8" y="423.23" font-size="5.35" text-anchor="middle" fill="#1a1a1a">CONTROL</text>
<rect x="506.2" y="425.6" width="10.2" height="6.4" fill="#fff" stroke="#6a6a6a" stroke-width="0.7"/>
<text x="511.3" y="430.85" font-size="5.7" text-anchor="middle" fill="#1a1a1a">PH</text>
<text x="510.8" y="438.23" font-size="5.35" text-anchor="middle" fill="#1a1a1a">OIL PUMP</text>
<rect x="543.6" y="418.6" width="13.4" height="6.4" fill="#fff" stroke="#6a6a6a" stroke-width="0.7"/>
<text x="550.3" y="423.85" font-size="5.7" text-anchor="middle" fill="#1a1a1a">BM1</text>
<text x="550" y="431.23" font-size="5.35" text-anchor="middle" fill="#1a1a1a">GROUND</text>
<rect x="577.5" y="408" width="13.9" height="6.4" fill="#fff" stroke="#6a6a6a" stroke-width="0.7"/>
<text x="584.45" y="413.25" font-size="5.7" text-anchor="middle" fill="#1a1a1a">BM2</text>
<text x="585" y="420.23" font-size="5.35" text-anchor="middle" fill="#1a1a1a">GROUND</text>
<rect x="640.4" y="401" width="14.4" height="6.6" fill="#fff" stroke="#6a6a6a" stroke-width="0.7"/>
<text x="647.6" y="406.35" font-size="5.7" text-anchor="middle" fill="#1a1a1a">1340</text>
<text x="647.4" y="413.33" font-size="5.35" text-anchor="middle" fill="#1a1a1a">BATTERY</text>
<rect x="640" y="442.3" width="10.6" height="6.5" fill="#fff" stroke="#6a6a6a" stroke-width="0.7"/>
<text x="645.3" y="447.6" font-size="5.7" text-anchor="middle" fill="#1a1a1a">SD</text>
<text x="645" y="454.33" font-size="5.35" text-anchor="middle" fill="#1a1a1a">STARTER</text>
<text x="645" y="460.53" font-size="5.35" text-anchor="middle" fill="#1a1a1a">SOLENOID</text>
<rect x="602.5" y="477.2" width="10.5" height="6.6" fill="#fff" stroke="#6a6a6a" stroke-width="0.7"/>
<text x="607.75" y="482.55" font-size="5.7" text-anchor="middle" fill="#1a1a1a">NV</text>
<text x="607.5" y="490.73" font-size="5.35" text-anchor="middle" fill="#1a1a1a">SPEED SENSOR</text>
<rect x="670.6" y="504.4" width="8.6" height="6.4" fill="#fff" stroke="#6a6a6a" stroke-width="0.7"/>
<text x="674.9" y="509.65" font-size="5.7" text-anchor="middle" fill="#1a1a1a">SA</text>
<text x="675" y="516.23" font-size="5.35" text-anchor="middle" fill="#1a1a1a">REAR LIGHT</text>
<rect x="709.3" y="490" width="14.5" height="6.5" fill="#fff" stroke="#6a6a6a" stroke-width="0.7"/>
<text x="716.55" y="495.3" font-size="5.7" text-anchor="middle" fill="#1a1a1a">RPO</text>
<text x="716.7" y="502.53" font-size="5.35" text-anchor="middle" fill="#1a1a1a">REAR POWER</text>
<text x="716.7" y="508.93" font-size="5.35" text-anchor="middle" fill="#1a1a1a">OUTLET</text>
<text x="747.8" y="323.43" font-size="5.35" text-anchor="middle" fill="#1a1a1a">COMMUNICATION</text>
<text x="747.8" y="329.53" font-size="5.35" text-anchor="middle" fill="#1a1a1a">PORT</text>
<rect x="744.5" y="332.4" width="8.3" height="6.2" fill="#fff" stroke="#6a6a6a" stroke-width="0.7"/>
<text x="748.65" y="337.55" font-size="5.7" text-anchor="middle" fill="#1a1a1a">DI</text>
<rect x="732.6" y="366.8" width="19.4" height="6.6" fill="#fff" stroke="#6a6a6a" stroke-width="0.7"/>
<text x="742.3" y="372.15" font-size="5.7" text-anchor="middle" fill="#1a1a1a">COMP</text>
<text x="742.3" y="379.13" font-size="5.35" text-anchor="middle" fill="#1a1a1a">COMPRESSOR</text>
<text x="688.6" y="187.53" font-size="5.35" text-anchor="middle" fill="#1a1a1a">FUSE BOX</text>
<rect x="683.6" y="189.6" width="10.2" height="6.8" fill="#fff" stroke="#6a6a6a" stroke-width="0.7"/>
<text x="688.7" y="195.05" font-size="5.7" text-anchor="middle" fill="#1a1a1a">FB</text>
<rect x="441.2" y="458.8" width="10.6" height="6.4" fill="#fff" stroke="#6a6a6a" stroke-width="0.7"/>
<text x="446.5" y="464.05" font-size="5.7" text-anchor="middle" fill="#1a1a1a">TP</text>
<text x="446.6" y="472.43" font-size="5.35" text-anchor="middle" fill="#1a1a1a">THROTTLE</text>
<text x="446.6" y="478.73" font-size="5.35" text-anchor="middle" fill="#1a1a1a">POSITION</text>
<text x="446.6" y="484.93" font-size="5.35" text-anchor="middle" fill="#1a1a1a">SENSOR</text>
<text x="650.4" y="127.23" font-size="5.35" text-anchor="middle" fill="#1a1a1a">RELAY</text>
<rect x="646.4" y="129" width="7.4" height="6.8" fill="#fff" stroke="#6a6a6a" stroke-width="0.7"/>
<text x="650.1" y="134.45" font-size="5.7" text-anchor="middle" fill="#1a1a1a">R</text>
<text x="692.5" y="127.23" font-size="5.35" text-anchor="middle" fill="#1a1a1a">FUSE</text>
<rect x="688.6" y="129" width="7.4" height="6.8" fill="#fff" stroke="#6a6a6a" stroke-width="0.7"/>
<text x="692.3" y="134.45" font-size="5.7" text-anchor="middle" fill="#1a1a1a">F</text>
<text x="739.3" y="127.23" font-size="5.35" text-anchor="middle" fill="#1a1a1a">FUSE PULLER</text>
<text x="739.3" y="133.53" font-size="5.35" text-anchor="middle" fill="#1a1a1a">TOOL</text>
<text x="716.7" y="14.94" font-size="5.38" text-anchor="start" fill="#1a1a1a">R1: ACCESSORY RELAY</text>
<text x="716.7" y="21.37" font-size="5.38" text-anchor="start" fill="#1a1a1a">R2: FAN RELAY</text>
<text x="716.7" y="27.8" font-size="5.38" text-anchor="start" fill="#1a1a1a">F1: BATTERY 30A</text>
<text x="716.7" y="34.23" font-size="5.38" text-anchor="start" fill="#1a1a1a">F2: START 5A</text>
<text x="716.7" y="40.66" font-size="5.38" text-anchor="start" fill="#1a1a1a">F3: HEATED SEAT 20A</text>
<text x="716.7" y="47.09" font-size="5.38" text-anchor="start" fill="#1a1a1a">F4: FAN 15A</text>
<text x="716.7" y="53.52" font-size="5.38" text-anchor="start" fill="#1a1a1a">F5: AIR SUSPENSION 15A</text>
<text x="716.7" y="59.95" font-size="5.38" text-anchor="start" fill="#1a1a1a">F6: GPS AND CHARGER 10A</text>
<rect x="596.1" y="20.2" width="9.9" height="13.2" fill="#fff" stroke="#333" stroke-width="0.9"/><rect x="596.1" y="69.5" width="9.9" height="11.8" fill="#fff" stroke="#333" stroke-width="0.9"/><rect x="601.8" y="45.2" width="4.2" height="12" fill="#fff" stroke="#333" stroke-width="0.9"/><rect x="698.2" y="20.2" width="8.8" height="13.2" fill="#fff" stroke="#333" stroke-width="0.9"/><rect x="698.2" y="69.5" width="8.7" height="11.8" fill="#fff" stroke="#333" stroke-width="0.9"/><rect x="698.2" y="45.2" width="3.5" height="12" fill="#fff" stroke="#333" stroke-width="0.9"/><rect x="645.1" y="11.9" width="12.3" height="5.7" fill="#fff" stroke="#333" stroke-width="0.9"/><rect x="645.2" y="84.8" width="12.3" height="5.7" fill="#fff" stroke="#333" stroke-width="0.9"/><line x1="596.6" y1="20.2" x2="596.6" y2="33.4" stroke="#444" stroke-width="1.7"/><line x1="596.6" y1="69.5" x2="596.6" y2="81.3" stroke="#444" stroke-width="1.7"/><line x1="706.3" y1="20.2" x2="706.3" y2="33.4" stroke="#444" stroke-width="1.8"/><line x1="706.3" y1="69.5" x2="706.3" y2="81.3" stroke="#444" stroke-width="1.8"/><line x1="596.1" y1="81" x2="606" y2="81" stroke="#444" stroke-width="1.4"/><line x1="698.2" y1="81" x2="706.9" y2="81" stroke="#444" stroke-width="1.4"/><rect x="606" y="17.6" width="92.2" height="67.2" fill="#fff" rx="6" stroke="#333" stroke-width="1.1"/><rect x="608.5" y="19.8" width="87.9" height="62.8" fill="none" rx="4.5" stroke="#666" stroke-width="0.7"/><line x1="606.4" y1="34.5" x2="610.6" y2="34.5" stroke="#777" stroke-width="0.5"/><line x1="693.8" y1="34.5" x2="697.8" y2="34.5" stroke="#777" stroke-width="0.5"/><line x1="606.4" y1="36.1" x2="610.6" y2="36.1" stroke="#777" stroke-width="0.5"/><line x1="693.8" y1="36.1" x2="697.8" y2="36.1" stroke="#777" stroke-width="0.5"/><line x1="606.4" y1="37.7" x2="610.6" y2="37.7" stroke="#777" stroke-width="0.5"/><line x1="693.8" y1="37.7" x2="697.8" y2="37.7" stroke="#777" stroke-width="0.5"/><line x1="606.4" y1="39.3" x2="610.6" y2="39.3" stroke="#777" stroke-width="0.5"/><line x1="693.8" y1="39.3" x2="697.8" y2="39.3" stroke="#777" stroke-width="0.5"/><line x1="606.4" y1="40.9" x2="610.6" y2="40.9" stroke="#777" stroke-width="0.5"/><line x1="693.8" y1="40.9" x2="697.8" y2="40.9" stroke="#777" stroke-width="0.5"/><line x1="606.4" y1="42.5" x2="610.6" y2="42.5" stroke="#777" stroke-width="0.5"/><line x1="693.8" y1="42.5" x2="697.8" y2="42.5" stroke="#777" stroke-width="0.5"/><line x1="606.4" y1="44.1" x2="610.6" y2="44.1" stroke="#777" stroke-width="0.5"/><line x1="693.8" y1="44.1" x2="697.8" y2="44.1" stroke="#777" stroke-width="0.5"/><line x1="606.4" y1="58" x2="610.6" y2="58" stroke="#777" stroke-width="0.5"/><line x1="693.8" y1="58" x2="697.8" y2="58" stroke="#777" stroke-width="0.5"/><line x1="606.4" y1="59.6" x2="610.6" y2="59.6" stroke="#777" stroke-width="0.5"/><line x1="693.8" y1="59.6" x2="697.8" y2="59.6" stroke="#777" stroke-width="0.5"/><line x1="606.4" y1="61.2" x2="610.6" y2="61.2" stroke="#777" stroke-width="0.5"/><line x1="693.8" y1="61.2" x2="697.8" y2="61.2" stroke="#777" stroke-width="0.5"/><line x1="606.4" y1="62.8" x2="610.6" y2="62.8" stroke="#777" stroke-width="0.5"/><line x1="693.8" y1="62.8" x2="697.8" y2="62.8" stroke="#777" stroke-width="0.5"/><line x1="606.4" y1="64.4" x2="610.6" y2="64.4" stroke="#777" stroke-width="0.5"/><line x1="693.8" y1="64.4" x2="697.8" y2="64.4" stroke="#777" stroke-width="0.5"/><line x1="606.4" y1="66" x2="610.6" y2="66" stroke="#777" stroke-width="0.5"/><line x1="693.8" y1="66" x2="697.8" y2="66" stroke="#777" stroke-width="0.5"/><line x1="606.4" y1="67.6" x2="610.6" y2="67.6" stroke="#777" stroke-width="0.5"/><line x1="693.8" y1="67.6" x2="697.8" y2="67.6" stroke="#777" stroke-width="0.5"/><rect x="610.8" y="22.2" width="82.8" height="58.2" fill="#fff" rx="3" stroke="#333" stroke-width="1.2"/><rect x="611.5" y="22.8" width="38" height="25.4" fill="#fff" rx="1.2" stroke="#2a2a2a" stroke-width="1.3"/><rect x="654.3" y="22.8" width="38" height="25.4" fill="#fff" rx="1.2" stroke="#2a2a2a" stroke-width="1.3"/><rect x="612.3" y="55.5" width="20.6" height="6.4" fill="#fff" rx="2" stroke="#222" stroke-width="1.4"/><rect x="612.3" y="71.2" width="20.6" height="6.4" fill="#fff" rx="2" stroke="#222" stroke-width="1.4"/><rect x="640.9" y="55.5" width="20.5" height="6.4" fill="#fff" rx="2" stroke="#222" stroke-width="1.4"/><rect x="640.9" y="71.2" width="20.5" height="6.4" fill="#fff" rx="2" stroke="#222" stroke-width="1.4"/><rect x="670.2" y="55.5" width="19.7" height="6.4" fill="#fff" rx="2" stroke="#222" stroke-width="1.4"/><rect x="670.2" y="71.2" width="19.7" height="6.4" fill="#fff" rx="2" stroke="#222" stroke-width="1.4"/>
<text x="612.8" y="29.36" font-size="6" textLength="6" lengthAdjust="spacingAndGlyphs" fill="#222" font-weight="bold">85</text>
<text x="625.2" y="29.36" font-size="6" textLength="8.8" lengthAdjust="spacingAndGlyphs" fill="#222" font-weight="bold">87A</text>
<text x="640.2" y="29.36" font-size="6" textLength="6.2" lengthAdjust="spacingAndGlyphs" fill="#222" font-weight="bold">87</text>
<text x="655.8" y="29.36" font-size="6" textLength="6" lengthAdjust="spacingAndGlyphs" fill="#222" font-weight="bold">85</text>
<text x="668" y="29.36" font-size="6" textLength="8.9" lengthAdjust="spacingAndGlyphs" fill="#222" font-weight="bold">87A</text>
<text x="683" y="29.36" font-size="6" textLength="6.2" lengthAdjust="spacingAndGlyphs" fill="#222" font-weight="bold">87</text>
<text x="612.8" y="46.86" font-size="6" textLength="6" lengthAdjust="spacingAndGlyphs" fill="#222" font-weight="bold">30</text>
<text x="639.6" y="46.86" font-size="6" textLength="6.4" lengthAdjust="spacingAndGlyphs" fill="#222" font-weight="bold">85</text>
<text x="655.8" y="46.86" font-size="6" textLength="6" lengthAdjust="spacingAndGlyphs" fill="#222" font-weight="bold">30</text>
<text x="682.4" y="46.86" font-size="6" textLength="6.4" lengthAdjust="spacingAndGlyphs" fill="#222" font-weight="bold">85</text>
<text x="624.2" y="39.79" font-size="10.8" textLength="9.8" lengthAdjust="spacingAndGlyphs" fill="#222">R2</text>
<text x="666.8" y="39.79" font-size="10.8" textLength="9.4" lengthAdjust="spacingAndGlyphs" fill="#222">R1</text>
<text x="619.8" y="60.82" font-size="5.6" textLength="5.4" lengthAdjust="spacingAndGlyphs" fill="#222" font-weight="bold">F1</text>
<text x="648.3" y="60.82" font-size="5.6" textLength="5.4" lengthAdjust="spacingAndGlyphs" fill="#222" font-weight="bold">F3</text>
<text x="677.2" y="60.82" font-size="5.6" textLength="5.4" lengthAdjust="spacingAndGlyphs" fill="#222" font-weight="bold">F5</text>
<text x="619.8" y="76.42" font-size="5.6" textLength="5.4" lengthAdjust="spacingAndGlyphs" fill="#222" font-weight="bold">F2</text>
<text x="648.3" y="76.42" font-size="5.6" textLength="5.4" lengthAdjust="spacingAndGlyphs" fill="#222" font-weight="bold">F4</text>
<text x="677.2" y="76.42" font-size="5.6" textLength="5.4" lengthAdjust="spacingAndGlyphs" fill="#222" font-weight="bold">F6</text>
<path d="M635 142.5 L645.5 139.6 L663 141.6 L649 145.2 Z" fill="#fff" stroke="#666" stroke-width="0.8"/><path d="M635 142.5 L649 145.2 V161.2 L635 158.4 Z" fill="#fff" stroke="#666" stroke-width="0.8"/><path d="M649 145.2 L663 141.6 V157.4 L649 161.2 Z" fill="#fff" stroke="#666" stroke-width="0.8"/><rect x="644.6" y="141.2" width="1.6" height="0.9" fill="#333"/><rect x="643.6" y="160.4" width="2.2" height="6.8" fill="#cfcfcf" stroke="#666" stroke-width="0.6"/><rect x="647.2" y="161.2" width="2.2" height="6.8" fill="#cfcfcf" stroke="#666" stroke-width="0.6"/><rect x="651.6" y="160.8" width="2.2" height="6.8" fill="#cfcfcf" stroke="#666" stroke-width="0.6"/><rect x="655.2" y="160" width="2.2" height="6.8" fill="#cfcfcf" stroke="#666" stroke-width="0.6"/>
<rect x="687.2" y="141.6" width="10.6" height="6.4" fill="#777" rx="2.4" stroke="#333" stroke-width="0.8"/><rect x="689.4" y="143" width="2.4" height="3.6" fill="#ccc"/><rect x="693" y="143" width="2.4" height="3.6" fill="#ccc"/><rect x="688.2" y="148" width="2.4" height="9" fill="#bbb" stroke="#555" stroke-width="0.6"/><rect x="694.2" y="148" width="2.6" height="10" fill="#aaa" stroke="#555" stroke-width="0.6"/>
<path d="M735.8 141.3 H752 L748 147.6 H731.8 Z" fill="#383838" stroke="#222" stroke-width="0.6"/><path d="M735.8 141.3 L731.8 147.6 L728.3 147.2 L732.5 141.6 Z" fill="#f4f4f4" stroke="#444" stroke-width="0.6"/><path d="M728.3 147.2 L731.8 147.6 H748 L752 141.3 V144 L748.6 150.8 H731 L728.3 149.8 Z" fill="#ddd" stroke="#333" stroke-width="0.6"/><line x1="738.6" y1="141.6" x2="735" y2="147.3" stroke="#999" stroke-width="0.5"/><line x1="741.2" y1="141.6" x2="737.6" y2="147.3" stroke="#999" stroke-width="0.5"/><line x1="743.8" y1="141.6" x2="740.2" y2="147.3" stroke="#999" stroke-width="0.5"/><line x1="746.4" y1="141.6" x2="742.8" y2="147.3" stroke="#999" stroke-width="0.5"/><line x1="749" y1="141.6" x2="745.4" y2="147.3" stroke="#999" stroke-width="0.5"/>
<g transform="translate(278.2 40.5) rotate(0)"><rect x="-5.7" y="-8.2" width="11.4" height="16.4" fill="#383838" rx="1.6" stroke="#222" stroke-width="0.6"/><rect x="-3.9" y="-6.3" width="3.4" height="8" fill="#ddd"/><rect x="1.2" y="-6.3" width="1.2" height="8" fill="#999"/><rect x="-2.6" y="2.6" width="5.2" height="4.6" fill="#f2f2f2"/><line x1="-5" y1="1.6" x2="5" y2="1.6" stroke="#888" stroke-width="0.5"/></g>
<g transform="translate(246 55.3) rotate(38)"><rect x="-7.25" y="-6.25" width="14.5" height="12.5" fill="#383838" rx="0.8" stroke="#222" stroke-width="0.6"/><line x1="-6.25" y1="-4.65" x2="2.25" y2="-4.65" stroke="#bbb" stroke-width="0.6"/><line x1="-6.25" y1="-2.35" x2="2.25" y2="-2.35" stroke="#bbb" stroke-width="0.6"/><line x1="-6.25" y1="-0.05" x2="2.25" y2="-0.05" stroke="#bbb" stroke-width="0.6"/><line x1="-6.25" y1="2.25" x2="2.25" y2="2.25" stroke="#bbb" stroke-width="0.6"/><line x1="-6.25" y1="4.55" x2="2.25" y2="4.55" stroke="#bbb" stroke-width="0.6"/><rect x="2.05" y="-1.2" width="4" height="4.6" fill="#eee"/><rect x="3.05" y="-5" width="2.6" height="2.6" fill="#ccc"/></g>
<g transform="translate(310 46.5) rotate(32)"><rect x="-9.5" y="-7.75" width="19" height="15.5" fill="#f6f6f6" rx="1.4" stroke="#222" stroke-width="0.9"/><rect x="-9.5" y="-1.8" width="15.2" height="9.55" fill="#454545" rx="1"/><rect x="-4.2" y="-7.75" width="5.6" height="1.9" fill="#383838"/><rect x="6.3" y="-7.15" width="2.8" height="8.6" fill="#c4c4c4"/><line x1="-4.2" y1="-7.75" x2="-4.2" y2="-1.8" stroke="#333" stroke-width="0.7"/><line x1="1.6" y1="-5.85" x2="1.6" y2="-1.8" stroke="#777" stroke-width="0.5"/><line x1="1.6" y1="-4.4" x2="6.3" y2="-4.4" stroke="#888" stroke-width="0.5"/><rect x="-8.3" y="-0.6" width="3.3" height="2.6" fill="#ececec"/><rect x="-8.3" y="3.3" width="3.3" height="2.6" fill="#ececec"/><rect x="-3.5" y="-0.6" width="3.3" height="2.6" fill="#ececec"/><rect x="-3.5" y="3.3" width="3.3" height="2.6" fill="#ececec"/><rect x="1.3" y="-0.6" width="3.3" height="2.6" fill="#ececec"/><rect x="1.3" y="3.3" width="3.3" height="2.6" fill="#ececec"/><rect x="6.1" y="1.2" width="3" height="5.4" fill="#fff" stroke="#333" stroke-width="0.6"/><circle cx="-0.6" cy="-4.6" r="1.3" fill="#ddd" stroke="#333" stroke-width="0.5"/></g>
<g transform="translate(202.4 51.6) rotate(57)"><rect x="-5.75" y="-2.3" width="11.5" height="4.6" fill="#f6f6f6" rx="0.8" stroke="#333" stroke-width="0.7"/><line x1="-2.07" y1="-2.3" x2="-2.07" y2="2.3" stroke="#444" stroke-width="0.5"/><line x1="-2.07" y1="-0.69" x2="5.75" y2="-0.69" stroke="#777" stroke-width="0.4"/></g>
<g transform="translate(189.6 70.5) rotate(0)"><rect x="-5.3" y="-2.3" width="10.6" height="4.6" fill="#f6f6f6" rx="0.8" stroke="#333" stroke-width="0.7"/><line x1="-1.91" y1="-2.3" x2="-1.91" y2="2.3" stroke="#444" stroke-width="0.5"/><line x1="-1.91" y1="-0.69" x2="5.3" y2="-0.69" stroke="#777" stroke-width="0.4"/></g>
<g transform="translate(176.5 87) rotate(14)"><rect x="-7" y="-6" width="12.5" height="3.2" fill="#ddd" rx="1" stroke="#222" stroke-width="0.8"/><rect x="-8.2" y="2.4" width="12.5" height="3.6" fill="#ddd" rx="1" stroke="#222" stroke-width="0.8"/><rect x="-4.6" y="-2.8" width="6.5" height="5.2" fill="#555" stroke="#222" stroke-width="0.6"/><line x1="-4.6" y1="-1" x2="1.9" y2="-1" stroke="#ddd" stroke-width="0.5"/><line x1="-4.6" y1="0.8" x2="1.9" y2="0.8" stroke="#ddd" stroke-width="0.5"/><path d="M2 -5.2 Q8.4 -5.4 8.2 0 Q8.4 5.6 2 5.4 Z" fill="#383838" stroke="#222" stroke-width="0.6"/><circle cx="4.6" cy="0.2" r="1.5" fill="#ddd" stroke="#222" stroke-width="0.4"/></g>
<g transform="translate(172.5 117) rotate(0)"><rect x="-7" y="-6" width="12.5" height="3.2" fill="#ddd" rx="1" stroke="#222" stroke-width="0.8"/><rect x="-8.2" y="2.4" width="12.5" height="3.6" fill="#ddd" rx="1" stroke="#222" stroke-width="0.8"/><rect x="-4.6" y="-2.8" width="6.5" height="5.2" fill="#555" stroke="#222" stroke-width="0.6"/><line x1="-4.6" y1="-1" x2="1.9" y2="-1" stroke="#ddd" stroke-width="0.5"/><line x1="-4.6" y1="0.8" x2="1.9" y2="0.8" stroke="#ddd" stroke-width="0.5"/><path d="M2 -5.2 Q8.4 -5.4 8.2 0 Q8.4 5.6 2 5.4 Z" fill="#383838" stroke="#222" stroke-width="0.6"/><circle cx="4.6" cy="0.2" r="1.5" fill="#ddd" stroke="#222" stroke-width="0.4"/></g>
<g transform="translate(176.5 148.7) rotate(-20)"><path d="M-3.72 -3.99 H0 V-5.7 H5.76 V-3.8 H7 Q8 -3.8 8 -2.38 V3.8 Q8 4.75 7 4.75 H-3.72 Q-8 4.75 -8 0.48 Q-8 -3.99 -3.72 -3.99 Z" fill="#383838" stroke="#222" stroke-width="0.5"/><circle cx="-3.82" cy="0.48" r="2.3" fill="#f2f2f2" stroke="#222" stroke-width="0.4"/><rect x="-1.28" y="-2.66" width="1.6" height="3.04" fill="#ddd"/><rect x="1.28" y="-4.28" width="3.2" height="1.9" fill="#e4e4e4"/><rect x="1.92" y="-0.76" width="1.92" height="3.8" fill="#cfcfcf"/><rect x="5.12" y="-0.95" width="1.6" height="3.99" fill="#eee"/></g>
<g transform="translate(206.2 168) rotate(20)"><rect x="-8" y="-4.75" width="16" height="9.5" fill="#f0f0f0" rx="0.8" stroke="#222" stroke-width="0.8"/><rect x="-1.28" y="-4.75" width="1.92" height="9.5" fill="#383838"/><rect x="1.92" y="-3.04" width="4.8" height="6.08" fill="#555"/><line x1="-8" y1="-1.9" x2="-1.28" y2="-1.9" stroke="#444" stroke-width="0.5"/><line x1="-8" y1="1.9" x2="-1.28" y2="1.9" stroke="#444" stroke-width="0.5"/></g>
<g transform="translate(324.6 115.8) rotate(0)"><rect x="-7" y="-3.2" width="4.6" height="6.6" fill="#fafafa" rx="0.6" stroke="#222" stroke-width="0.8"/><rect x="-2.4" y="-3.8" width="9.4" height="7.6" fill="#fafafa" rx="0.8" stroke="#222" stroke-width="0.8"/><line x1="-2.4" y1="-1.6" x2="7" y2="-1.6" stroke="#666" stroke-width="0.5"/><line x1="2.4" y1="-3.8" x2="2.4" y2="3.8" stroke="#444" stroke-width="0.6"/><rect x="-6.2" y="-2.4" width="1.4" height="2.2" fill="#555"/><rect x="3.4" y="0" width="2.6" height="2.8" fill="#777"/></g>
<g transform="translate(311.9 161.6) rotate(-43)"><rect x="-7.4" y="-3.4" width="14.8" height="6.8" fill="#555" rx="2.2" stroke="#222" stroke-width="0.7"/><line x1="-5.2" y1="-2.8" x2="-5.2" y2="2.8" stroke="#ddd" stroke-width="0.6"/><line x1="-3.5" y1="-2.8" x2="-3.5" y2="2.8" stroke="#ddd" stroke-width="0.6"/><line x1="-1.8" y1="-2.8" x2="-1.8" y2="2.8" stroke="#ddd" stroke-width="0.6"/><line x1="-0.1" y1="-2.8" x2="-0.1" y2="2.8" stroke="#ddd" stroke-width="0.6"/><line x1="1.6" y1="-2.8" x2="1.6" y2="2.8" stroke="#ddd" stroke-width="0.6"/><line x1="3.3" y1="-2.8" x2="3.3" y2="2.8" stroke="#ddd" stroke-width="0.6"/><rect x="3.8" y="-2.2" width="2.6" height="4.4" fill="#ddd"/></g>
<g transform="translate(352 150.6) rotate(127.6)"><rect x="-5.75" y="-2.2" width="11.5" height="4.4" fill="#f6f6f6" rx="0.8" stroke="#333" stroke-width="0.7"/><line x1="-2.07" y1="-2.2" x2="-2.07" y2="2.2" stroke="#444" stroke-width="0.5"/><line x1="-2.07" y1="-0.66" x2="5.75" y2="-0.66" stroke="#777" stroke-width="0.4"/></g>
<g transform="translate(364.8 165.8) rotate(180)"><rect x="-6" y="-2.4" width="12" height="4.8" fill="#f6f6f6" rx="0.8" stroke="#333" stroke-width="0.7"/><line x1="-2.16" y1="-2.4" x2="-2.16" y2="2.4" stroke="#444" stroke-width="0.5"/><line x1="-2.16" y1="-0.72" x2="6" y2="-0.72" stroke="#777" stroke-width="0.4"/></g>
<g transform="translate(363 194) rotate(154.6)"><rect x="-5.75" y="-2.3" width="11.5" height="4.6" fill="#f6f6f6" rx="0.8" stroke="#333" stroke-width="0.7"/><line x1="-2.07" y1="-2.3" x2="-2.07" y2="2.3" stroke="#444" stroke-width="0.5"/><line x1="-2.07" y1="-0.69" x2="5.75" y2="-0.69" stroke="#777" stroke-width="0.4"/></g>
<g transform="translate(365.8 213.8) rotate(208.3)"><rect x="-5.75" y="-2.3" width="11.5" height="4.6" fill="#f6f6f6" rx="0.8" stroke="#333" stroke-width="0.7"/><line x1="-2.07" y1="-2.3" x2="-2.07" y2="2.3" stroke="#444" stroke-width="0.5"/><line x1="-2.07" y1="-0.69" x2="5.75" y2="-0.69" stroke="#777" stroke-width="0.4"/></g>
<g transform="translate(318.2 240.8) rotate(160)"><path d="M-2.95 -3.78 H0 V-5.4 H5.04 V-3.6 H6 Q7 -3.6 7 -2.25 V3.6 Q7 4.5 6 4.5 H-2.95 Q-7 4.5 -7 0.45 Q-7 -3.78 -2.95 -3.78 Z" fill="#383838" stroke="#222" stroke-width="0.5"/><circle cx="-3.04" cy="0.45" r="2.3" fill="#f2f2f2" stroke="#222" stroke-width="0.4"/><rect x="-1.12" y="-2.52" width="1.4" height="2.88" fill="#ddd"/><rect x="1.12" y="-4.05" width="2.8" height="1.8" fill="#e4e4e4"/><rect x="1.68" y="-0.72" width="1.68" height="3.6" fill="#cfcfcf"/><rect x="4.48" y="-0.9" width="1.4" height="3.78" fill="#eee"/></g>
<g transform="translate(357 267.4) rotate(192)"><path d="M-3.91 -3.44 H0 V-4.92 H5.47 V-3.28 H6.6 Q7.6 -3.28 7.6 -2.05 V3.28 Q7.6 4.1 6.6 4.1 H-3.91 Q-7.6 4.1 -7.6 0.41 Q-7.6 -3.44 -3.91 -3.44 Z" fill="#383838" stroke="#222" stroke-width="0.5"/><circle cx="-3.99" cy="0.41" r="2.3" fill="#f2f2f2" stroke="#222" stroke-width="0.4"/><rect x="-1.22" y="-2.3" width="1.52" height="2.62" fill="#ddd"/><rect x="1.22" y="-3.69" width="3.04" height="1.64" fill="#e4e4e4"/><rect x="1.82" y="-0.66" width="1.82" height="3.28" fill="#cfcfcf"/><rect x="4.86" y="-0.82" width="1.52" height="3.44" fill="#eee"/></g>
<g transform="translate(396.3 290.5) rotate(180)"><rect x="-3.85" y="-8.25" width="7.7" height="5.95" fill="#eee" rx="0.8" stroke="#222" stroke-width="0.7"/><rect x="-5.5" y="-3.3" width="11" height="11.55" fill="#f2f2f2" rx="1" stroke="#222" stroke-width="0.8"/><line x1="-1.32" y1="-3.3" x2="-1.32" y2="8.25" stroke="#333" stroke-width="0.7"/><line x1="1.98" y1="-3.3" x2="1.98" y2="8.25" stroke="#555" stroke-width="0.6"/><rect x="-5.5" y="4.95" width="11" height="3.3" fill="#444"/><rect x="-3.05" y="-7.25" width="2.31" height="3.95" fill="#555"/></g>
<g transform="translate(427.4 278.3) rotate(0)"><rect x="-3.64" y="-7.8" width="7.28" height="5.68" fill="#a8a8a8" rx="0.8" stroke="#222" stroke-width="0.7"/><rect x="-5.2" y="-3.12" width="10.4" height="10.92" fill="#9a9a9a" rx="1" stroke="#222" stroke-width="0.8"/><rect x="-4.4" y="-2.12" width="3.33" height="5.46" fill="#eee"/><rect x="0.21" y="-2.32" width="1.66" height="9.32" fill="#e0e0e0"/><rect x="2.5" y="-1.12" width="2.08" height="3.82" fill="#383838"/><rect x="-4.4" y="3.65" width="3.74" height="3.28" fill="#333"/></g>
<g transform="translate(117.8 228) rotate(0)"><rect x="-3.29" y="-7.7" width="6.58" height="5.62" fill="#eee" rx="0.8" stroke="#222" stroke-width="0.7"/><rect x="-4.7" y="-3.08" width="9.4" height="10.78" fill="#f2f2f2" rx="1" stroke="#222" stroke-width="0.8"/><line x1="-1.13" y1="-3.08" x2="-1.13" y2="7.7" stroke="#333" stroke-width="0.7"/><line x1="1.69" y1="-3.08" x2="1.69" y2="7.7" stroke="#555" stroke-width="0.6"/><rect x="-4.7" y="4.62" width="9.4" height="3.08" fill="#444"/><rect x="-2.49" y="-6.7" width="1.97" height="3.62" fill="#555"/></g>
<g transform="translate(169.5 241.8) rotate(12)"><path d="M-3.2 -3.78 H0 V-5.4 H5.22 V-3.6 H6.25 Q7.25 -3.6 7.25 -2.25 V3.6 Q7.25 4.5 6.25 4.5 H-3.2 Q-7.25 4.5 -7.25 0.45 Q-7.25 -3.78 -3.2 -3.78 Z" fill="#383838" stroke="#222" stroke-width="0.5"/><circle cx="-3.29" cy="0.45" r="2.3" fill="#f2f2f2" stroke="#222" stroke-width="0.4"/><rect x="-1.16" y="-2.52" width="1.45" height="2.88" fill="#ddd"/><rect x="1.16" y="-4.05" width="2.9" height="1.8" fill="#e4e4e4"/><rect x="1.74" y="-0.72" width="1.74" height="3.6" fill="#cfcfcf"/><rect x="4.64" y="-0.9" width="1.45" height="3.78" fill="#eee"/></g>
<g transform="translate(222 236.5) rotate(0)"><rect x="-7.9" y="-3.6" width="6.4" height="7.1" fill="#fff" stroke="#222" stroke-width="0.8"/><rect x="-7.9" y="-3.6" width="6.4" height="2" fill="#383838"/><rect x="-1.5" y="-2.9" width="9.4" height="5.2" fill="#fff" rx="1" stroke="#333" stroke-width="0.7"/><rect x="5.6" y="-2.9" width="2.3" height="5.2" fill="#555" rx="1"/><line x1="-1.5" y1="-0.6" x2="5.6" y2="-0.6" stroke="#888" stroke-width="0.4"/><rect x="-5.6" y="3.5" width="7" height="1.2" fill="#666"/></g>
<g transform="translate(226.5 255.2) rotate(0)"><rect x="-7.5" y="-4.9" width="6.3" height="9.79" fill="#f0f0f0" stroke="#222" stroke-width="0.8"/><line x1="-7.5" y1="0" x2="-1.5" y2="0" stroke="#555" stroke-width="0.5"/><rect x="-1.5" y="-7.2" width="9" height="14.4" fill="#9a9a9a" rx="1.6" stroke="#222" stroke-width="0.9"/><rect x="-1.5" y="-7.2" width="2.1" height="14.4" fill="#383838"/><rect x="1.8" y="-4.32" width="3" height="6.05" fill="#eee"/><rect x="1.5" y="3.17" width="3.9" height="2.3" fill="#f4f4f4"/><line x1="6" y1="-5.8" x2="6" y2="5.8" stroke="#333" stroke-width="0.8"/></g>
<g transform="translate(237.2 292.3) rotate(0)"><rect x="-7.5" y="-4.83" width="6.3" height="9.66" fill="#f0f0f0" stroke="#222" stroke-width="0.8"/><line x1="-7.5" y1="0" x2="-1.5" y2="0" stroke="#555" stroke-width="0.5"/><rect x="-1.5" y="-7.1" width="9" height="14.2" fill="#9a9a9a" rx="1.6" stroke="#222" stroke-width="0.9"/><rect x="-1.5" y="-7.1" width="2.1" height="14.2" fill="#383838"/><rect x="1.8" y="-4.26" width="3" height="5.96" fill="#eee"/><rect x="1.5" y="3.12" width="3.9" height="2.27" fill="#f4f4f4"/><line x1="6" y1="-5.7" x2="6" y2="5.7" stroke="#333" stroke-width="0.8"/></g>
<g transform="translate(38 336.8) rotate(0)"><rect x="-10" y="-6.2" width="12.4" height="12.4" fill="#444" rx="1.2" stroke="#222" stroke-width="0.6"/><rect x="-7.8" y="-2.8" width="4.6" height="5.6" fill="#f4f4f4"/><rect x="-8.6" y="-5.6" width="5" height="1.4" fill="#ccc"/><rect x="-8.6" y="4.2" width="5" height="1.4" fill="#ccc"/><rect x="-2.2" y="-4.4" width="1.4" height="8.8" fill="#aaa"/><rect x="2.4" y="-4.4" width="7.8" height="8.4" fill="#444" rx="1.6" stroke="#222" stroke-width="0.6"/><circle cx="5.6" cy="-0.2" r="2.1" fill="#ccc" stroke="#222" stroke-width="0.5"/><line x1="-9" y1="-4.4" x2="-3" y2="-4.4" stroke="#999" stroke-width="0.5"/><line x1="-9" y1="4.4" x2="-3" y2="4.4" stroke="#999" stroke-width="0.5"/></g>
<g transform="translate(187.4 366.4) rotate(-27)"><rect x="-7.3" y="-3.8" width="14.6" height="7.6" fill="#f0f0f0" rx="0.8" stroke="#222" stroke-width="0.8"/><rect x="1.75" y="-3.8" width="5.55" height="7.6" fill="#383838" rx="0.8"/><rect x="2.92" y="-1.52" width="2.34" height="3.04" fill="#bbb"/><line x1="-2.92" y1="-3.8" x2="-2.92" y2="3.8" stroke="#444" stroke-width="0.5"/></g>
<g transform="translate(203.5 394.5) rotate(47.5)"><rect x="-12.75" y="-9.5" width="25.5" height="19" fill="#f6f6f6" rx="0.8" stroke="#222" stroke-width="0.9"/><rect x="-14.15" y="-9.8" width="2.6" height="10.45" fill="#383838" rx="0.8"/><line x1="-9.56" y1="-0.8" x2="-9.56" y2="9.1" stroke="#555" stroke-width="0.7"/><line x1="-6.38" y1="-0.8" x2="-6.38" y2="9.1" stroke="#555" stroke-width="0.7"/><line x1="-3.19" y1="-0.8" x2="-3.19" y2="9.1" stroke="#555" stroke-width="0.7"/><line x1="0" y1="-0.8" x2="0" y2="9.1" stroke="#555" stroke-width="0.7"/><line x1="3.19" y1="-0.8" x2="3.19" y2="9.1" stroke="#555" stroke-width="0.7"/><line x1="6.38" y1="-0.8" x2="6.38" y2="9.1" stroke="#555" stroke-width="0.7"/><line x1="9.56" y1="-0.8" x2="9.56" y2="9.1" stroke="#555" stroke-width="0.7"/><line x1="-12.75" y1="-0.8" x2="12.75" y2="-0.8" stroke="#444" stroke-width="0.7"/><line x1="-11.75" y1="-7.9" x2="11.75" y2="-7.9" stroke="#999" stroke-width="0.5"/><rect x="-1.4" y="-2.2" width="2.4" height="1.6" fill="#383838"/></g>
<g transform="translate(266.8 385.8) rotate(27)"><rect x="-9.75" y="-4.3" width="19.5" height="8.6" fill="#f0f0f0" rx="0.8" stroke="#222" stroke-width="0.8"/><rect x="2.34" y="-4.3" width="7.41" height="8.6" fill="#383838" rx="0.8"/><rect x="3.9" y="-1.72" width="3.12" height="3.44" fill="#bbb"/><line x1="-3.9" y1="-4.3" x2="-3.9" y2="4.3" stroke="#444" stroke-width="0.5"/></g>
<g transform="translate(268 425.4) rotate(-25)"><rect x="-8.5" y="-5.25" width="17" height="10.5" fill="#383838" rx="1.6" stroke="#222" stroke-width="0.5"/><rect x="-6.8" y="-3.57" width="3.4" height="7.14" fill="#d4d4d4"/><rect x="-1.7" y="-4.2" width="3.4" height="3.15" fill="#e4e4e4"/><rect x="-1.7" y="1.05" width="3.4" height="3.15" fill="#e4e4e4"/><rect x="3.4" y="-3.15" width="1.36" height="6.3" fill="#ccc"/><rect x="5.78" y="-3.15" width="1.36" height="6.3" fill="#ccc"/></g>
<g transform="translate(159.7 436.7) rotate(0)"><path d="M-3.79 -3.7 H0 V-5.28 H5.58 V-3.52 H6.75 Q7.75 -3.52 7.75 -2.2 V3.52 Q7.75 4.4 6.75 4.4 H-3.79 Q-7.75 4.4 -7.75 0.44 Q-7.75 -3.7 -3.79 -3.7 Z" fill="#383838" stroke="#222" stroke-width="0.5"/><circle cx="-3.88" cy="0.44" r="2.3" fill="#f2f2f2" stroke="#222" stroke-width="0.4"/><rect x="-1.24" y="-2.46" width="1.55" height="2.82" fill="#ddd"/><rect x="1.24" y="-3.96" width="3.1" height="1.76" fill="#e4e4e4"/><rect x="1.86" y="-0.7" width="1.86" height="3.52" fill="#cfcfcf"/><rect x="4.96" y="-0.88" width="1.55" height="3.7" fill="#eee"/></g>
<g transform="translate(118.4 491.2) rotate(0)"><rect x="-3.36" y="-6.9" width="6.72" height="5.14" fill="#a8a8a8" rx="0.8" stroke="#222" stroke-width="0.7"/><rect x="-4.8" y="-2.76" width="9.6" height="9.66" fill="#9a9a9a" rx="1" stroke="#222" stroke-width="0.8"/><rect x="-4" y="-1.76" width="3.07" height="4.83" fill="#eee"/><rect x="0.19" y="-1.96" width="1.54" height="8.06" fill="#e0e0e0"/><rect x="2.3" y="-0.76" width="1.92" height="3.38" fill="#383838"/><rect x="-4" y="3.23" width="3.46" height="2.9" fill="#333"/></g>
<g transform="translate(269 468) rotate(25)"><rect x="-7.5" y="-4.3" width="15" height="8.6" fill="#f0f0f0" rx="0.8" stroke="#222" stroke-width="0.8"/><rect x="-3" y="-4.3" width="1.5" height="8.6" fill="#383838"/><rect x="0.3" y="-3.44" width="1.5" height="6.88" fill="#444"/><rect x="3.3" y="-3.44" width="1.5" height="6.88" fill="#444"/><line x1="-7.5" y1="0" x2="-3" y2="0" stroke="#444" stroke-width="0.5"/></g>
<g transform="translate(215 493) rotate(0)"><rect x="-10.25" y="-5" width="20.5" height="10" fill="#f0f0f0" rx="0.8" stroke="#222" stroke-width="0.8"/><rect x="2.46" y="-5" width="7.79" height="10" fill="#383838" rx="0.8"/><rect x="4.1" y="-2" width="3.28" height="4" fill="#bbb"/><line x1="-4.1" y1="-5" x2="-4.1" y2="5" stroke="#444" stroke-width="0.5"/></g>
<g transform="translate(363.2 508) rotate(15)"><rect x="-7.5" y="-5.25" width="15" height="10.5" fill="#383838" rx="1.6" stroke="#222" stroke-width="0.5"/><rect x="-6" y="-3.57" width="3" height="7.14" fill="#d4d4d4"/><rect x="-1.5" y="-4.2" width="3" height="3.15" fill="#e4e4e4"/><rect x="-1.5" y="1.05" width="3" height="3.15" fill="#e4e4e4"/><rect x="3" y="-3.15" width="1.2" height="6.3" fill="#ccc"/><rect x="5.1" y="-3.15" width="1.2" height="6.3" fill="#ccc"/></g>
<g transform="translate(303 543.2) rotate(-70)"><path d="M-2.75 -4.2 H0 V-6 H5.22 V-4 H6.25 Q7.25 -4 7.25 -2.5 V4 Q7.25 5 6.25 5 H-2.75 Q-7.25 5 -7.25 0.5 Q-7.25 -4.2 -2.75 -4.2 Z" fill="#383838" stroke="#222" stroke-width="0.5"/><circle cx="-2.85" cy="0.5" r="2.3" fill="#f2f2f2" stroke="#222" stroke-width="0.4"/><rect x="-1.16" y="-2.8" width="1.45" height="3.2" fill="#ddd"/><rect x="1.16" y="-4.5" width="2.9" height="2" fill="#e4e4e4"/><rect x="1.74" y="-0.8" width="1.74" height="4" fill="#cfcfcf"/><rect x="4.64" y="-1" width="1.45" height="4.2" fill="#eee"/></g>
<g transform="translate(340 539.5) rotate(60)"><path d="M-2 -4.2 H0 V-6 H4.68 V-4 H5.5 Q6.5 -4 6.5 -2.5 V4 Q6.5 5 5.5 5 H-2 Q-6.5 5 -6.5 0.5 Q-6.5 -4.2 -2 -4.2 Z" fill="#383838" stroke="#222" stroke-width="0.5"/><circle cx="-2.1" cy="0.5" r="2.3" fill="#f2f2f2" stroke="#222" stroke-width="0.4"/><rect x="-1.04" y="-2.8" width="1.3" height="3.2" fill="#ddd"/><rect x="1.04" y="-4.5" width="2.6" height="2" fill="#e4e4e4"/><rect x="1.56" y="-0.8" width="1.56" height="4" fill="#cfcfcf"/><rect x="4.16" y="-1" width="1.3" height="4.2" fill="#eee"/></g>
<g transform="translate(446.6 449.5) rotate(0)"><circle cx="0" cy="0.6" r="5.4" fill="#383838" stroke="#222" stroke-width="0.6"/><path d="M-3.6 -1 Q0 -4.2 3.4 -1.4" fill="none" stroke="#eee" stroke-width="0.9"/><path d="M-3 3 Q0 0.2 3.2 2.6" fill="none" stroke="#ddd" stroke-width="0.8"/><rect x="-2.4" y="-6.4" width="4.4" height="2.2" fill="#555"/><line x1="0" y1="-3" x2="0" y2="5" stroke="#ccc" stroke-width="0.5"/></g>
<g transform="translate(480.7 377) rotate(-32.6)"><rect x="-5.25" y="-2.2" width="10.5" height="4.4" fill="#f6f6f6" rx="0.8" stroke="#333" stroke-width="0.7"/><line x1="-1.89" y1="-2.2" x2="-1.89" y2="2.2" stroke="#444" stroke-width="0.5"/><line x1="-1.89" y1="-0.66" x2="5.25" y2="-0.66" stroke="#777" stroke-width="0.4"/></g>
<g transform="translate(489.2 398.8) rotate(45)"><rect x="-1.1" y="-6.6" width="2.2" height="4" fill="#333"/><circle cx="0" cy="0" r="2.6" fill="#fff" stroke="#333" stroke-width="0.8"/><circle cx="0" cy="0" r="1.17" fill="none" stroke="#555" stroke-width="0.5"/></g>
<g transform="translate(512.2 416) rotate(0)"><rect x="-3.5" y="-6.8" width="7" height="5.08" fill="#777" rx="0.8" stroke="#222" stroke-width="0.7"/><rect x="-5" y="-2.72" width="10" height="9.52" fill="#383838" rx="1" stroke="#222" stroke-width="0.8"/><rect x="-4" y="-1.72" width="3" height="3.81" fill="#e6e6e6"/><rect x="0" y="-1.72" width="1.4" height="7.52" fill="#ccc"/><rect x="2.4" y="2.04" width="1.8" height="3.62" fill="#ddd"/><rect x="-2.7" y="-6" width="2.45" height="3.48" fill="#ddd"/></g>
<g transform="translate(548.6 412.7) rotate(0)"><rect x="-1.1" y="-7.4" width="2.2" height="4.5" fill="#333"/><circle cx="0" cy="0" r="2.9" fill="#fff" stroke="#333" stroke-width="0.8"/><circle cx="0" cy="0" r="1.3" fill="none" stroke="#555" stroke-width="0.5"/></g>
<g transform="translate(579.8 402.6) rotate(-38)"><rect x="-1.1" y="-7.4" width="2.2" height="4.5" fill="#333"/><circle cx="0" cy="0" r="2.9" fill="#fff" stroke="#333" stroke-width="0.8"/><circle cx="0" cy="0" r="1.3" fill="none" stroke="#555" stroke-width="0.5"/></g>
<g transform="translate(647.3 395.3) rotate(0)"><rect x="-1.1" y="-7.5" width="2.2" height="4.5" fill="#333"/><circle cx="0" cy="0" r="3" fill="#fff" stroke="#333" stroke-width="0.8"/><circle cx="0" cy="0" r="1.35" fill="none" stroke="#555" stroke-width="0.5"/></g>
<g transform="translate(634.2 435.6) rotate(50)"><path d="M-2.72 -3.99 H0 V-5.7 H5.04 V-3.8 H6 Q7 -3.8 7 -2.38 V3.8 Q7 4.75 6 4.75 H-2.72 Q-7 4.75 -7 0.48 Q-7 -3.99 -2.72 -3.99 Z" fill="#383838" stroke="#222" stroke-width="0.5"/><circle cx="-2.82" cy="0.48" r="2.3" fill="#f2f2f2" stroke="#222" stroke-width="0.4"/><rect x="-1.12" y="-2.66" width="1.4" height="3.04" fill="#ddd"/><rect x="1.12" y="-4.28" width="2.8" height="1.9" fill="#e4e4e4"/><rect x="1.68" y="-0.76" width="1.68" height="3.8" fill="#cfcfcf"/><rect x="4.48" y="-0.95" width="1.4" height="3.99" fill="#eee"/></g>
<g transform="translate(607.9 466.2) rotate(0)"><rect x="-3.36" y="-9.2" width="6.72" height="6.52" fill="#a8a8a8" rx="0.8" stroke="#222" stroke-width="0.7"/><rect x="-4.8" y="-3.68" width="9.6" height="12.88" fill="#9a9a9a" rx="1" stroke="#222" stroke-width="0.8"/><rect x="-4" y="-2.68" width="3.07" height="6.44" fill="#eee"/><rect x="0.19" y="-2.88" width="1.54" height="11.28" fill="#e0e0e0"/><rect x="2.3" y="-1.68" width="1.92" height="4.51" fill="#383838"/><rect x="-4" y="4.31" width="3.46" height="3.86" fill="#333"/></g>
<g transform="translate(674.7 494.8) rotate(0)"><rect x="-3.15" y="-6" width="6.3" height="4.6" fill="#777" rx="0.8" stroke="#222" stroke-width="0.7"/><rect x="-4.5" y="-2.4" width="9" height="8.4" fill="#383838" rx="1" stroke="#222" stroke-width="0.8"/><rect x="-3.5" y="-1.4" width="2.7" height="3.36" fill="#e6e6e6"/><rect x="0" y="-1.4" width="1.26" height="6.4" fill="#ccc"/><rect x="2.16" y="1.8" width="1.62" height="3.19" fill="#ddd"/><rect x="-2.35" y="-5.2" width="2.2" height="3" fill="#ddd"/></g>
<g transform="translate(699.3 488) rotate(205)"><path d="M-3.13 -3.61 H0 V-5.16 H5.04 V-3.44 H6 Q7 -3.44 7 -2.15 V3.44 Q7 4.3 6 4.3 H-3.13 Q-7 4.3 -7 0.43 Q-7 -3.61 -3.13 -3.61 Z" fill="#383838" stroke="#222" stroke-width="0.5"/><circle cx="-3.22" cy="0.43" r="2.3" fill="#f2f2f2" stroke="#222" stroke-width="0.4"/><rect x="-1.12" y="-2.41" width="1.4" height="2.75" fill="#ddd"/><rect x="1.12" y="-3.87" width="2.8" height="1.72" fill="#e4e4e4"/><rect x="1.68" y="-0.69" width="1.68" height="3.44" fill="#cfcfcf"/><rect x="4.48" y="-0.86" width="1.4" height="3.61" fill="#eee"/></g>
<g transform="translate(731.2 336.6) rotate(0)"><path d="M-7 -5.6 H7 L9 -2 V2.6 L7 5.6 H-7 L-9 2.6 V-2 Z" fill="#fafafa" stroke="#222" stroke-width="1"/><rect x="-6.4" y="-5.2" width="12.8" height="1.6" fill="#555"/><line x1="-7" y1="3.2" x2="7" y2="3.2" stroke="#444" stroke-width="0.6"/><line x1="-6.6" y1="-1.2" x2="6.6" y2="-1.2" stroke="#888" stroke-width="0.5"/><rect x="-8.6" y="-1.6" width="1.6" height="3.6" fill="#383838"/><rect x="7" y="-1.6" width="1.6" height="3.6" fill="#383838"/></g>
<g transform="translate(725 362) rotate(38)"><rect x="-8" y="-5" width="16" height="10" fill="#383838" rx="1.6" stroke="#222" stroke-width="0.5"/><rect x="-6.4" y="-3.4" width="3.2" height="6.8" fill="#d4d4d4"/><rect x="-1.6" y="-4" width="3.2" height="3" fill="#e4e4e4"/><rect x="-1.6" y="1" width="3.2" height="3" fill="#e4e4e4"/><rect x="3.2" y="-3" width="1.28" height="6" fill="#ccc"/><rect x="5.44" y="-3" width="1.28" height="6" fill="#ccc"/></g>
</svg>
</body></html>
